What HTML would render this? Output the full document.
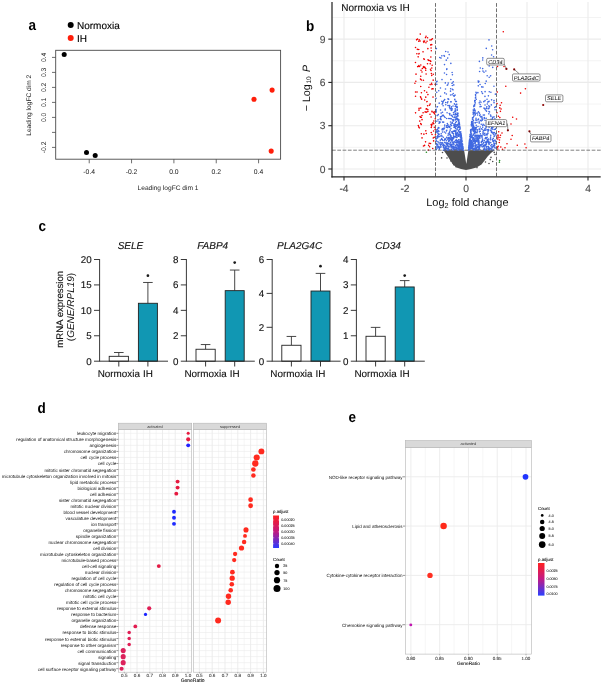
<!DOCTYPE html>
<html><head><meta charset="utf-8"><style>
html,body{margin:0;padding:0;background:#fff;}
body{width:603px;height:685px;overflow:hidden;}
svg{display:block;filter:blur(0.45px);font-family:"Liberation Sans", sans-serif;}
text{text-rendering:geometricPrecision;}
</style></head><body>
<svg width="603" height="685" viewBox="0 0 603 685">
<rect width="603" height="685" fill="#fff"/>
<text transform="translate(28.4 30) scale(0.9 1)" font-size="15" font-weight="bold">a</text>
<circle cx="70.7" cy="25" r="3" fill="#000"/>
<text x="77" y="28.8" stroke="#000" stroke-width="0.12" font-size="10">Normoxia</text>
<circle cx="70.7" cy="38" r="3" fill="#ff1e0a"/>
<text x="77" y="42" stroke="#000" stroke-width="0.12" font-size="10">IH</text>
<rect x="55.7" y="50.3" width="224.9" height="108.9" fill="none" stroke="#4a4a4a" stroke-width="0.9"/>
<line x1="52" y1="57.4" x2="55.7" y2="57.4" stroke="#4a4a4a" stroke-width="0.8"/>
<text transform="translate(46.2 57.4) rotate(-90)" text-anchor="middle" fill="#222" font-size="6.8">0.4</text>
<line x1="52" y1="72.4" x2="55.7" y2="72.4" stroke="#4a4a4a" stroke-width="0.8"/>
<text transform="translate(46.2 72.4) rotate(-90)" text-anchor="middle" fill="#222" font-size="6.8">0.3</text>
<line x1="52" y1="87.4" x2="55.7" y2="87.4" stroke="#4a4a4a" stroke-width="0.8"/>
<text transform="translate(46.2 87.4) rotate(-90)" text-anchor="middle" fill="#222" font-size="6.8">0.2</text>
<line x1="52" y1="102.4" x2="55.7" y2="102.4" stroke="#4a4a4a" stroke-width="0.8"/>
<text transform="translate(46.2 102.4) rotate(-90)" text-anchor="middle" fill="#222" font-size="6.8">0.1</text>
<line x1="52" y1="117.4" x2="55.7" y2="117.4" stroke="#4a4a4a" stroke-width="0.8"/>
<text transform="translate(46.2 117.4) rotate(-90)" text-anchor="middle" fill="#222" font-size="6.8">0.0</text>
<line x1="52" y1="132.4" x2="55.7" y2="132.4" stroke="#4a4a4a" stroke-width="0.8"/>
<line x1="52" y1="147.4" x2="55.7" y2="147.4" stroke="#4a4a4a" stroke-width="0.8"/>
<text transform="translate(46.2 147.4) rotate(-90)" text-anchor="middle" fill="#222" font-size="6.8">-0.2</text>
<line x1="89.22" y1="159.2" x2="89.22" y2="163.3" stroke="#4a4a4a" stroke-width="0.8"/>
<text x="89.22" y="173.9" text-anchor="middle" fill="#222" font-size="6.8">-0.4</text>
<line x1="131.56" y1="159.2" x2="131.56" y2="163.3" stroke="#4a4a4a" stroke-width="0.8"/>
<text x="131.56" y="173.9" text-anchor="middle" fill="#222" font-size="6.8">-0.2</text>
<line x1="173.9" y1="159.2" x2="173.9" y2="163.3" stroke="#4a4a4a" stroke-width="0.8"/>
<text x="173.9" y="173.9" text-anchor="middle" fill="#222" font-size="6.8">0.0</text>
<line x1="216.24" y1="159.2" x2="216.24" y2="163.3" stroke="#4a4a4a" stroke-width="0.8"/>
<text x="216.24" y="173.9" text-anchor="middle" fill="#222" font-size="6.8">0.2</text>
<line x1="258.58" y1="159.2" x2="258.58" y2="163.3" stroke="#4a4a4a" stroke-width="0.8"/>
<text x="258.58" y="173.9" text-anchor="middle" fill="#222" font-size="6.8">0.4</text>
<text x="168" y="190.3" text-anchor="middle" fill="#222" font-size="6.6">Leading logFC dim 1</text>
<text transform="translate(31 105.3) rotate(-90)" text-anchor="middle" fill="#222" font-size="6.6">Leading logFC dim 2</text>
<circle cx="64.2" cy="54.6" r="2.5" fill="#000"/>
<circle cx="86.5" cy="152.4" r="2.5" fill="#000"/>
<circle cx="95.2" cy="155.4" r="2.5" fill="#000"/>
<circle cx="254" cy="99.3" r="2.55" fill="#ff1e0a"/>
<circle cx="272.1" cy="90.1" r="2.55" fill="#ff1e0a"/>
<circle cx="271.2" cy="151.1" r="2.55" fill="#ff1e0a"/>
<text transform="translate(306 30.8) scale(0.9 1)" font-size="15" font-weight="bold">b</text>
<line x1="374.5" y1="2" x2="374.5" y2="176.8" stroke="#ebebeb" stroke-width="0.6"/>
<line x1="557.5" y1="2" x2="557.5" y2="176.8" stroke="#ebebeb" stroke-width="0.6"/>
<line x1="344" y1="2" x2="344" y2="176.8" stroke="#ebebeb" stroke-width="1.1"/>
<line x1="405" y1="2" x2="405" y2="176.8" stroke="#ebebeb" stroke-width="1.1"/>
<line x1="466" y1="2" x2="466" y2="176.8" stroke="#ebebeb" stroke-width="1.1"/>
<line x1="527" y1="2" x2="527" y2="176.8" stroke="#ebebeb" stroke-width="1.1"/>
<line x1="588" y1="2" x2="588" y2="176.8" stroke="#ebebeb" stroke-width="1.1"/>
<line x1="332" y1="147.35" x2="601" y2="147.35" stroke="#ebebeb" stroke-width="0.6"/>
<line x1="332" y1="104.06" x2="601" y2="104.06" stroke="#ebebeb" stroke-width="0.6"/>
<line x1="332" y1="60.78" x2="601" y2="60.78" stroke="#ebebeb" stroke-width="0.6"/>
<line x1="332" y1="17.49" x2="601" y2="17.49" stroke="#ebebeb" stroke-width="0.6"/>
<line x1="332" y1="169" x2="601" y2="169" stroke="#ebebeb" stroke-width="1.1"/>
<line x1="332" y1="125.71" x2="601" y2="125.71" stroke="#ebebeb" stroke-width="1.1"/>
<line x1="332" y1="82.42" x2="601" y2="82.42" stroke="#ebebeb" stroke-width="1.1"/>
<line x1="332" y1="39.13" x2="601" y2="39.13" stroke="#ebebeb" stroke-width="1.1"/>
<polygon points="443.5,150.3 494.5,150.3 491,153 488,156 485,160 481.5,164.5 476.5,167.5 471,169 466,170 461,169 456.5,167.5 453,164.5 450,160 447.5,156 445.5,153" fill="#4d4d4d"/>
<polygon points="464.1,150.2 466.3,164 468.4,150.2" fill="#fff"/>
<path d="M441.6 157.9h0M450.9 160.9h0M453.2 163.4h0M485.5 162h0M491 157.4h0M492.7 161.5h0M495 154.5h0M442.5 152.5h0M447 158h0M489 163.5h0M453.8 164.8h0M456 166.7h0M477 167.6h0M446.7 152.8h0M494.2 152.4h0M490.2 159.6h0" stroke="#4d4d4d" stroke-width="1.6" stroke-linecap="round" fill="none"/>
<path d="M449.93 146.94h0M456.62 134.73h0M461.26 135.94h0M462.74 148.78h0M457.67 114.81h0M438.1 130.29h0M494.98 140.03h0M455.08 110.74h0M459.38 147.71h0M479.66 146.21h0M478.97 140.83h0M461.37 149h0M473.28 138.97h0M473.09 138.05h0M473.36 125.99h0M490.76 135.19h0M495.14 143.38h0M445.71 139.3h0M461.35 136.68h0M481.16 121.02h0M483.67 142.63h0M477.07 132.72h0M481.64 91.76h0M483.6 148.98h0M492.61 49.72h0M448.86 140.39h0M460.37 137.73h0M445.81 149.01h0M457.19 144.49h0M475.64 148.54h0M489.61 106.83h0M475.14 143.65h0M437.46 106.69h0M460.6 146.32h0M451.1 136.84h0M457.14 150.16h0M437.92 133.36h0M481.45 135.6h0M491.51 149.12h0M488.84 108.31h0M461.38 139.96h0M468.84 148.94h0M458.59 146.66h0M462.3 150.24h0M462.04 141.11h0M471.49 131.01h0M457.46 141.62h0M436.21 112.06h0M461.09 136.88h0M459.45 141.77h0M468.83 146.68h0M471.01 135.06h0M477.8 149.69h0M485.55 110.04h0M460.83 141.01h0M487.05 134.88h0M443.94 145.14h0M488.97 111.56h0M473.43 123.04h0M469.4 141.36h0M459.79 143.62h0M481.71 86.9h0M494.96 60.83h0M460.54 145.21h0M450.73 145.62h0M479.44 113.16h0M472.51 117.76h0M488.67 101.65h0M471.19 137.11h0M487.62 142.07h0M475.1 140.06h0M472.53 124.18h0M440.17 146.93h0M488.49 147.05h0M475.02 128.61h0M468.73 147.4h0M479.23 129.05h0M490.54 138.75h0M471.51 145.45h0M451.85 144.68h0M461.01 139.27h0M476.41 141.42h0M479.26 102.84h0M478.83 136.17h0M475.31 149.86h0M444.65 150.16h0M446.73 137.28h0M478.01 142.27h0M472.48 119.26h0M472.06 144.47h0M479.72 135.92h0M479.93 101.03h0M478.29 136.01h0M478.74 138.08h0M444.71 92.89h0M477.9 92.66h0M490.88 92.27h0M456.27 147.62h0M462.3 144.68h0M491.98 119.29h0M448 124.8h0M437.12 106.92h0M450.67 88.68h0M439.74 57.47h0M453.4 138.83h0M458.94 145.84h0M478.58 149.84h0M459.16 149.87h0M470.19 135.74h0M494.9 118.87h0M462.4 144.01h0M469.91 143.87h0M441.83 101.28h0M439.56 146.97h0M471.52 125.89h0M454.4 126.7h0M446.38 93.95h0M489.68 148.47h0M451.98 110.12h0M439.01 133.97h0M453.9 147.45h0M461.85 147.9h0M459.05 145.69h0M456.43 121.45h0M473.33 146.28h0M462.55 144.42h0M471.66 134.06h0M455.05 95.13h0M477.6 138.81h0M477.83 140.15h0M482.69 68.58h0M482.69 125.46h0M461.98 141.61h0M446.84 148.76h0M462.49 146.64h0M484.86 108.94h0M459.3 144.64h0M456.08 146.78h0M436.79 84.29h0M494.48 144.58h0M462.13 141.33h0M453.59 137.24h0M461.36 136.05h0M457.42 148.34h0M459.72 149.78h0M452.41 132.45h0M485.09 128.59h0M473.41 140.27h0M484.52 146.97h0M488.79 149.34h0M485.62 130.3h0M477.83 147.21h0M488.83 113.85h0M491.53 132.52h0M473.1 126.36h0M458.22 147.36h0M449.91 113.74h0M483.81 130.36h0M444.71 150.17h0M478.93 136.12h0M484.92 148.86h0M460.32 148.68h0M485.16 145.6h0M474.97 136.48h0M444.71 126.99h0M471 129.45h0M446.5 144.32h0M460.96 133.3h0M449 143.92h0M473.99 127.49h0M476.93 137.62h0M455.55 104.97h0M475.56 94.63h0M437.16 115.61h0M460.63 143.92h0M479.7 145.46h0M437.96 135.24h0M451.3 115.57h0M473.2 125.69h0M469.87 136.79h0M454.87 136.57h0M458.57 147.18h0M458.08 113.19h0M473.38 113.33h0M492.03 125.02h0M456.72 140.84h0M474.88 132.27h0M462.32 143.74h0M455.54 113.88h0M471.85 144.45h0M473.95 145.99h0M489.38 106.68h0M493.92 100.81h0M471.42 124.56h0M485.94 138.13h0M469.27 143.43h0M476.34 147.49h0M446.58 143.1h0M482.23 144.15h0M455.88 133.78h0M461.03 146.68h0M471.87 136.36h0M461.33 147.2h0M461.75 141.79h0M452.33 144.2h0M477 122.26h0M456.44 135.24h0M460.14 148.95h0M477.21 147.52h0M474.89 110.1h0M456.98 144.47h0M440.46 88.06h0M468.56 149.8h0M480.18 104.58h0M474.05 150.24h0M490.56 114.96h0M469.63 144.47h0M448.06 135.31h0M483.11 124.4h0M479.28 137.89h0M457.05 119.44h0M474.03 129.29h0M450.23 144.38h0M468.97 147.84h0M475.45 132.58h0M460.73 131.68h0M437.72 137.77h0M480 106.76h0M437.72 144.51h0M469.22 142.82h0M454.61 127.57h0M438.96 128.01h0M458.98 149.54h0M458.54 127.06h0M479.15 123.09h0M450.86 79.5h0M471.05 144.94h0M493.88 143.18h0M460.71 146.05h0M438.03 128.13h0M460.08 140.14h0M468.92 147.15h0M440.3 140.14h0M495.94 123.59h0M470.77 142.17h0M471.6 122.53h0M474.41 140.63h0M462.87 146.49h0M437.91 141.49h0M452.51 82.93h0M442.32 115.42h0M455.6 149.22h0M454.86 99.34h0M456.75 104.32h0M444.17 116.5h0M463.06 149.52h0M485.49 144.24h0M472.21 141.88h0M473.13 130.85h0M472.21 142.55h0M439.18 121.77h0M475.96 92.28h0M437.81 137.22h0M471.97 140.37h0M438.99 136.5h0M445.11 117.47h0M482.19 120.3h0M457.61 142.46h0M470.34 148.58h0M469.26 144.5h0M457.34 133.99h0M495.58 106.81h0M462.64 148.47h0M453.75 125.25h0M450.35 139.35h0M490.02 122.4h0M489.06 147.63h0M456.3 133.34h0M471.41 145.75h0M441.05 146.88h0M474.79 142.26h0M472.09 135.94h0M495.65 128.84h0M443.32 137.23h0M474.7 100.59h0M461.44 147.68h0M493.06 132.56h0M452.03 109.62h0M438.05 119.86h0M449.77 131.92h0M461.13 140.95h0M451.41 144.3h0M468.9 145.65h0M458.74 127.33h0M444.6 145.65h0M469.13 148.92h0M449.35 134.1h0M448.37 146.63h0M458.87 143.51h0M479.41 142.68h0M441.64 139.36h0M471.05 141.11h0M468.89 145.64h0M488.48 139.11h0M451.49 106.92h0M453.4 149.94h0M474.8 101.64h0M477.71 140.88h0M453.69 143.51h0M476.82 147.91h0M478.92 81.4h0M436.75 92.34h0M439.29 149.13h0M447.43 102.85h0M486.88 146.71h0M442.36 139.77h0M470.88 146.16h0M456.32 135.5h0M447.17 144.51h0M478.86 149.39h0M488.91 149.46h0M451.78 131.75h0M475.32 142.86h0M482.6 139.04h0M461.69 138.59h0M472.08 136.66h0M478.31 119.65h0M460.97 137.29h0M461.33 138.86h0M461.23 135.82h0M484.81 148.51h0M470.12 135.77h0M493.86 140.65h0M436.1 110.94h0M473.82 116.15h0M494.14 136.56h0M486.98 146.6h0M473.2 148.87h0M491.42 146.75h0M457.67 116.08h0M476.29 99.24h0M457.72 135.99h0M461.62 146.18h0M491.74 127.24h0M458.36 119.2h0M475.1 129.81h0M480.41 133.88h0M495.72 148.01h0M487.56 140.11h0M444.41 56.17h0M453.4 121.02h0M459.32 122.75h0M481.65 144.33h0M483.13 132.43h0M463.32 150.2h0M454.7 130.9h0M474.71 104.61h0M460.3 128.85h0M461.55 141.38h0M451.98 145.11h0M481.07 145.63h0M438.81 147.32h0M462.44 146.97h0M488.31 108.82h0M462.5 144.04h0M474.54 133.55h0M493.29 138.39h0M491.76 144.47h0M455.75 134.92h0M445.4 149.03h0M438.43 134.07h0M451.26 145.75h0M488.53 129.51h0M458.92 142.76h0M443.12 105.77h0M489.15 150.11h0M485.57 137.59h0M462.08 145.07h0M459.02 149.44h0M489.84 126.25h0M478.94 143.99h0M451.27 118.86h0M437.39 129.49h0M457.23 107.4h0M446.5 144.8h0M475.19 122.54h0M471.6 142.19h0M484.23 130.12h0M484.03 72.18h0M490.3 126.08h0M450.54 124.19h0M450.76 145.43h0M455.63 101.42h0M439.15 147.96h0M462.9 147.15h0M448.91 126.41h0M471.67 123.28h0M488.3 141.12h0M474.1 105.41h0M494.05 100.58h0M462.09 145.59h0M442.51 112.22h0M483.29 115.02h0M462.58 148.12h0M472.79 145.61h0M460.63 149.81h0M455.4 124.83h0M448.21 83.09h0M470.58 130.79h0M445.1 138.66h0M451.53 125.6h0M457.28 110.2h0M468.81 146.47h0M436.83 121.23h0M453.83 136.61h0M477.06 146.12h0M455.97 114.22h0M471.08 143.5h0M470.49 136.31h0M486.9 148.54h0M482.89 119.01h0M456.58 139.88h0M491.05 148.42h0M459.97 145.58h0M474.92 136.19h0M476.22 144.87h0M486.69 121.87h0M473.3 141.59h0M447.08 112.82h0M475.52 146.49h0M471.04 132.76h0M455.28 106.53h0M447.85 142.99h0M469.93 146.85h0M453.54 142.25h0M460.7 142.21h0M471.86 123.88h0M474.04 148.08h0M486.22 118.24h0M450.28 145.83h0M457.37 145.57h0M444.49 139.95h0M481.89 136.22h0M451.51 147.15h0M439.52 122.95h0M445.65 133h0M447.3 145h0M485.04 120.19h0M482.74 127.25h0M450.36 142.66h0M444.78 139.25h0M473 130.18h0M450.2 137.97h0M438.76 127.52h0M444.41 128.77h0M437.05 136.64h0M460 134.41h0M482.42 93.21h0M452.14 132.98h0M482.14 135.74h0M475.72 135.34h0M483.15 145.48h0M458.58 121.18h0M469.53 141.37h0M461.91 139.93h0M447.78 139.22h0M460.42 144.02h0M482.57 93.43h0M454.08 117.58h0M445.41 147.44h0M477.64 129.92h0M494.4 145.07h0M443.02 129.67h0M473.04 137.49h0M488.77 147.54h0M455.56 111.82h0M456.32 144.33h0M447.63 150.19h0M459.12 144.56h0M449.78 138.94h0M492.89 141.15h0M488.49 149.05h0M472.8 119.28h0M470.63 129.98h0M445.5 88.99h0M462.11 148.08h0M455.25 119.99h0M442.72 102.88h0M447.94 105.44h0M491.67 127.94h0M474.22 113.37h0M485.69 134.95h0M449.38 106.95h0M461.7 144.85h0M455.76 149.02h0M453.65 136.58h0M473.21 110.1h0M479.64 137.49h0M477.16 113.15h0M453.79 84.9h0M470.69 129.82h0M493.19 127.06h0M446.74 69.4h0M456.73 104.21h0M474.6 130.41h0M476.88 141.03h0M473.51 120.5h0M452.34 139.15h0M488.65 143.24h0M458.6 136.09h0M487.18 75.72h0M473.05 142.12h0M449.35 132.4h0M484.36 149.42h0M470.26 134.31h0M461.76 150.12h0M483.02 131.29h0M483.81 101.64h0M484.34 130.33h0M472.75 127.16h0M486.32 137.87h0M462.73 146.2h0M485.06 100.66h0M443.47 115.3h0M472.56 144.21h0M456 142.5h0M475.57 95.37h0M469.25 149.43h0M492.58 132.94h0M457.91 149.95h0M495.38 94.16h0M461.33 139.5h0M470.01 145.42h0M449.02 150.14h0M453.28 81.72h0M468.74 147.45h0M484.97 144.64h0M445.6 149.2h0M486.51 111.16h0M446.83 130.23h0M453.68 95.83h0M471.26 124.72h0M443.04 128.99h0M446.9 142.71h0M451.3 110.38h0M451.88 140.98h0M459.22 127.42h0M482.02 141.12h0M474.8 139.31h0M489.28 91.68h0M469.36 143.25h0M489.18 125.7h0M436.9 131.43h0M473.88 131.67h0M453.04 105.99h0M491.68 131.64h0M469.11 143.51h0M451.37 139.15h0M473.88 106.12h0M490.94 116.5h0M489.58 143.78h0M492.48 126.93h0M453.2 148.45h0M485.54 145.72h0M480.55 144.85h0M471.54 137.59h0M443.63 122.14h0M444.28 148.39h0M479.68 144.89h0M481.11 106.53h0M459.36 132.26h0M448.14 146.21h0M455.67 133.45h0M468.89 146.98h0M469.98 140.78h0M473.01 118.97h0M478.08 141.7h0M436.4 149.55h0M479.82 136.78h0M453.62 119.73h0M489.04 120.79h0M469.13 144.32h0M462.43 146.21h0M441.22 133.78h0M438.76 90.82h0M455.59 131.83h0M452.31 85.57h0M494.19 129.57h0M476.26 140.15h0M436.21 82.07h0M460.6 149.45h0M439.2 103.16h0M486.82 149.27h0M495.42 129.22h0M446.21 147.08h0M474.14 127.42h0M472.18 121.59h0M461.78 144.24h0M460.52 146.51h0M460.11 127.37h0M468.96 145.86h0M493.07 145.21h0M474.6 105.89h0M439.16 148.18h0M477.19 130.24h0M452 115.25h0M470.85 147.13h0M451.07 124.97h0M455.2 108.91h0M459.98 146.82h0M470.55 142.01h0M440.14 142.51h0M452.12 72.56h0M472.64 127.95h0M459.79 143.43h0M436.36 141.09h0M475.43 97.89h0M456.67 104.48h0M495.07 143.22h0M454.99 117h0M443.32 150.2h0M475.46 146.09h0M479.4 145.27h0M445.58 146.23h0M469.24 145.82h0M453.19 131.29h0M451.1 145.58h0M481.79 116.52h0M447.15 148.87h0M459.52 124.4h0M489.25 141.99h0M469.88 136.52h0M490.59 137.16h0M443.18 146.08h0M457.89 146.63h0M477.52 150.15h0M460.61 135.6h0M490.89 115.98h0M455.17 125.15h0M490.37 148.97h0M478.29 136.45h0M470.1 134.67h0M470.44 145.13h0M443.69 144.42h0M448.34 148.19h0M451.88 149.88h0M484.29 135.29h0M445.26 109.1h0M454.88 147.59h0M469.85 143.62h0M451.9 147.27h0M479.34 147.02h0M488.48 146.61h0M475.54 140.3h0M475.39 135.18h0M475.7 119.93h0M455.83 142h0M492.62 117.28h0M473.06 112.23h0M493.96 86.27h0M449.94 139.16h0M460.94 134.95h0M461.33 136.04h0M442 79.61h0M488.36 129.98h0M473.78 106.61h0M483.01 144h0M439.11 134.45h0M477.92 144.41h0M452.41 89.37h0M459.71 129.18h0M482.99 87.1h0M452.77 137.55h0M462.16 147.57h0M458.76 139.7h0M453.41 148.38h0M480.3 131.22h0M484.07 145.7h0M450.17 134.2h0M459.96 142.73h0M456.36 135.73h0M473.15 150h0M478.98 144.74h0M436.52 143.47h0M458.1 120.36h0M452.13 108.83h0M455.54 140.33h0M470.84 147.9h0M472.48 123.13h0M448.71 141.46h0M489.47 111.92h0M486.3 123.12h0M487.18 137.21h0M475.26 100.51h0M485.97 150.15h0M494.41 136.32h0M487.06 139.31h0M475.38 131.36h0M446.84 137.87h0M452.4 140.23h0M444.76 142.39h0M476.46 136.26h0M461.36 142.92h0M470.71 132.64h0M489.3 142.33h0M478.28 85.83h0M456.39 101.47h0M453.36 133.43h0M480.28 120.24h0M478.47 135.52h0M474.08 140.27h0M493.72 141.5h0M470.51 135.19h0M452.19 139.89h0M494.7 107.44h0M450.15 138.52h0M478.39 141.75h0M472.69 146.46h0M480.08 114.91h0M445.75 104.8h0M493.56 56.7h0M459.63 146.81h0M471.44 136.04h0M450.12 130.15h0M474.6 149.37h0M483.5 142.84h0M442.64 142.91h0M472.44 127.96h0M458.42 133.96h0M495.91 134.92h0M470.26 139.54h0M458.75 121.45h0M453.94 146.46h0M488.22 131.06h0M445.77 149.99h0M455.69 124.85h0M461.98 143.98h0M474.6 132.61h0M461.81 140.4h0M494.3 132.59h0M458.27 130.68h0M440.57 96.28h0M442.04 103.95h0M437.62 131.6h0M453.03 89.84h0M457.9 124.63h0M451.12 108.18h0M470.37 144.61h0M437.24 146.07h0M460.38 133.58h0M475.11 140.4h0M443.47 147.58h0M460.99 144.57h0M462.53 144.77h0M470.42 141.8h0M471.58 148.28h0M475.56 147.48h0M473.27 117.22h0M455.17 124.35h0M493.82 145.53h0M475.99 145.03h0M457.42 125.48h0M475.03 132.35h0M458.91 131.31h0M477.49 147.59h0M486.43 143.87h0M451 128.59h0M461.57 140.26h0M454.7 111.78h0M478.94 147.91h0M458.16 136.22h0M460.21 142.71h0M456.97 124.76h0M443.16 101.84h0M473.9 110.34h0M449.13 149.63h0M475.25 141.49h0M473.43 125.97h0M481.46 141.47h0M439.86 147.77h0M471.31 125.05h0M461.18 146.67h0M461.91 140.56h0M459.13 129.7h0M484.88 133.18h0M448.22 138.71h0M443.23 150.22h0M469.24 143.43h0M470.59 131.35h0M444.85 147.86h0M443.83 100.56h0M455.04 126.27h0M475.29 114.59h0M450.51 91.14h0M485.97 126.47h0M477.2 130.26h0M454.26 126.04h0M475.79 97.05h0M483.63 149.34h0M478.71 144.13h0M479.66 129.74h0M458.48 149h0M459.08 145.7h0M447.74 125.44h0M453.97 144.65h0M452.14 94.76h0M456.37 106.6h0M488.19 142.04h0M472.86 121.37h0M477.27 131.8h0M473.2 114.3h0M460.32 141.21h0M460.77 143.58h0M470.31 138.24h0M457 137.47h0M463.18 148.74h0M471.93 122.2h0M485.84 70.99h0M455.28 136.68h0M461.13 134.42h0M482.17 129.35h0M473.16 128.88h0M462.91 147.23h0M475.7 113.27h0M442.03 129.71h0M486.84 146.51h0M475.15 122.85h0M455.11 114.99h0M456.46 134.06h0M469.1 144.71h0M488.74 130.25h0M494.05 102.65h0M460.3 136.26h0M460.54 132.66h0M475.62 146.63h0M468.74 148.34h0M447.33 145.96h0M441.12 113.11h0M472.68 139.05h0M475.95 135.64h0M448.81 138.57h0M475.27 102.9h0M452 138.41h0M462.37 145.85h0M437.2 137.78h0M495.06 109.72h0M488.4 130.7h0M449.72 127.45h0M437.93 133.14h0M457.24 129.18h0M457.08 106.53h0M453.96 127.31h0M455.74 128.42h0M478.55 139.36h0M470.14 140.04h0M449.43 105.65h0M455.55 110.21h0M458.79 134.95h0M459.05 133.93h0M477.48 147.82h0M474.58 148.55h0M441.65 138.54h0M486.68 124.91h0M441.87 55.83h0M453.72 114.42h0M447.24 85.2h0M486.48 147.27h0M457.65 144.78h0M458.99 132.02h0M454.24 125.41h0M490.75 130.63h0M491.57 99.84h0M455.66 122.6h0M489.07 127.19h0M446.51 140.81h0M471.41 124.4h0M478.52 148.12h0M492.66 147.82h0M470.68 144.3h0M449.31 113.45h0M462.7 149.81h0M478.82 146.1h0M455.37 126.76h0M449.89 108.17h0M494.01 116.88h0M461.14 141.77h0M488.92 108.54h0M443.72 146.18h0M476.98 140.17h0M453.48 112.56h0M470.79 131.17h0M440.6 145.32h0M469.88 149.34h0M451.52 137.5h0M462.14 141.42h0M469.3 142.04h0M450.85 63.42h0M457.52 127.78h0M458.78 136.24h0M494.17 135.07h0M478.8 149.54h0M488.06 108.65h0M475.16 129.9h0M440.67 118.19h0M474.26 127.14h0M479.26 123.06h0M479.01 141.52h0M458.93 148.98h0M446.28 60.17h0M460.33 144.61h0M462.98 147.3h0M476.35 138.05h0M470.47 142.97h0M458.79 142.99h0M493.35 134.05h0M448 98.9h0M452.17 146.26h0M486.63 141.32h0M457.3 109.29h0M454.42 103.9h0M462.07 149.77h0M458.07 125.62h0M451.42 145.72h0M472.3 129.14h0M485.24 83.56h0M440.54 116.75h0M461.4 147.27h0M484.04 108.16h0M472.96 145.42h0M476.17 129.09h0M469.48 141.91h0M450.94 149.3h0M450.8 136.46h0M461.58 137.67h0M495.5 133.46h0M446.38 131.01h0M461.97 148.26h0M458.79 120.8h0M478.82 139.12h0M482.84 133.88h0M485.35 142.13h0M444.74 125.13h0M486.51 142.77h0M472.68 138.05h0M476.44 93.09h0M449.06 137.19h0M495.57 141.15h0M458.92 121.7h0M462.76 147.33h0M471.58 133.87h0M470.42 141.05h0M439.02 123.2h0M445.46 149.65h0M446.86 68.71h0M487.62 141.72h0M440.13 142.34h0M459.34 123.53h0M490.2 139.86h0M455.5 133.46h0M485.08 91.66h0M459.83 144.38h0M460.87 144.92h0M473.92 129.45h0M479.34 145.31h0M440.55 110.07h0M442.56 122.11h0M454.54 142.1h0M483.03 146.68h0M480.1 138.05h0M490.89 145.48h0M441.05 119.67h0M436.15 109.94h0M462.68 149.74h0M492.03 150.05h0M459.09 123.33h0M459.67 127.05h0M444.69 99.59h0M479.6 71.56h0M446.68 118.51h0M459.25 136.04h0M463.05 148h0M490.74 142.55h0M460.61 136.74h0M448.69 146.26h0M452.25 123.17h0M454.18 141.43h0M471.27 141.56h0M486.81 106.87h0M460.04 146.3h0M454.62 149.35h0M456.57 133.81h0M448.36 126.7h0M483.93 134.16h0M486.31 108.38h0M456.29 142.5h0M474.7 140.35h0M436.03 147.12h0M438.98 131.33h0M455.96 131.17h0M462.08 145.77h0M492.42 119.28h0M456.43 126.31h0M473.77 134.16h0M485.22 150.22h0M480.65 135.82h0M481.3 144.84h0M484.37 140.62h0M450.24 135.15h0M481.41 142.39h0M480.72 145.14h0M450.71 101.87h0M477.38 135.33h0M439.21 147.14h0M478.78 135.25h0M470.34 144.73h0M482.06 137.78h0M491.31 104.9h0M442.95 140.54h0M469.83 147.59h0M458.39 148.05h0M476.76 135.36h0M436.09 140.07h0M477.2 138.19h0M472.62 121.51h0M478.16 141.01h0M457.89 140.88h0M461.57 149.88h0M470.02 149.04h0M473.05 143.76h0M457.81 113.95h0M474.63 110.68h0M448.75 118.49h0M456.44 149.33h0M456.79 125.06h0M443.28 129.14h0M451.72 140.41h0M494.73 145.94h0M482.73 140.83h0M446.26 148.76h0M453.55 135.17h0M471.69 121.66h0M476.81 137.7h0M476.98 139.41h0M477.52 138.53h0M484.43 115.07h0M469.6 139.86h0M486.72 133.94h0M470.78 147.7h0M458.01 115.88h0M450.5 121.97h0M446.57 127.16h0M448.69 149.1h0M436.04 132.53h0M474.25 108.72h0M461.28 135.49h0M471.85 143.75h0M442.02 144.29h0M475.92 135.79h0M441.65 142.91h0M475.36 111h0M453.77 149.16h0M454 137.63h0M487.68 141.04h0M448.67 99.37h0M453.27 142.62h0M457.31 133.43h0M455.98 118.12h0M481.97 117.48h0M450.55 95.07h0M475.2 149.04h0M489.93 149.23h0M459.43 131.92h0M487.91 133.61h0M447.75 127.61h0M442.89 145.45h0M454.76 99.75h0M445.15 148.22h0M482.58 139.42h0M445.7 102.5h0M448.52 149.06h0M455.39 113.7h0M457.31 132.62h0M492.08 146.86h0M457.16 113.05h0M482.97 71.11h0M449.79 140.58h0M460.67 134.3h0M453.99 123.92h0M488.55 147.79h0M436.09 98.36h0M473.2 135.14h0M452.25 122.21h0M476.63 148.27h0M479.41 131.84h0M460.03 147.2h0M474.73 112.52h0M480.02 149.58h0M493.56 141.71h0M472.78 149.2h0M446.54 144.5h0M455.97 118.93h0M460.57 133.69h0M481.96 118.91h0M454.5 149.55h0M459.6 129.22h0M474.36 141.45h0M470.13 146.63h0M489.26 142.1h0M470.83 137.02h0M456.72 107.56h0M460.52 134.73h0M453.57 146.62h0M471.06 141.01h0M461.94 145.65h0M450.79 108.79h0M493.44 149.93h0M450.04 118.61h0M485.57 144.98h0M462.44 144.04h0M458.16 135.49h0M479.43 148.46h0M444.37 131.97h0M471.09 148.94h0M480.3 67.98h0M488.68 126.46h0M452.5 116.63h0M493.3 150.02h0M461.47 139.68h0M447.35 123.51h0M461.25 141.71h0M458.61 145.23h0M477.8 137.04h0M487.71 102.02h0M481.1 145.76h0M472.4 119.04h0M470.52 141.56h0M486.16 127.68h0M438.29 114.63h0M489.47 122.64h0M476.6 132.21h0M490.99 119.24h0M447.83 84.73h0M494.59 147.75h0M489.04 144.38h0M455.66 145.78h0M439.81 136.53h0M476.25 125.21h0M484.6 118.36h0M477.61 114.94h0M442.35 128.89h0M442.46 131.99h0M476.63 150.15h0M444.02 147.87h0M454.16 131.49h0M458.14 145.39h0M473.67 130.73h0M447.98 143.86h0M443.38 128.39h0M459.96 127.03h0M471.81 146.13h0M471.45 141.15h0M491.6 131.21h0M437.84 136.25h0M482.65 59.94h0M477.97 146.67h0M438.42 146.35h0M456.44 116.76h0M453.19 148.09h0M474.91 135.67h0M485.03 104.94h0M454.38 130.48h0M482.56 141.17h0M478.23 140.72h0M480.99 102.22h0M452.43 74.73h0M480.25 127h0M440.12 122.15h0M471.64 122.25h0M438.08 147.26h0M479.8 147.09h0M474.14 149.28h0M473.59 129.52h0M478.7 143.29h0M444.47 73h0M475.77 127.44h0M484.44 125.25h0M452.38 146.67h0M476.04 118.36h0M441.01 135.58h0M458.35 123.16h0M459.77 149.13h0M437.07 81.37h0M438.43 142.76h0M455.81 142.42h0M457.08 144.15h0M451.9 83.31h0M451.18 101.87h0M487.24 129.76h0M446.12 146.91h0M448.32 133.71h0M473.89 143.73h0M473.17 135.02h0M486.41 144.17h0M449.81 114.84h0M453.22 93.43h0M453.38 148.78h0M476.5 127.34h0M472.35 147.86h0M486.21 81.15h0M476.81 120.14h0M475.44 122.84h0M454.85 117.14h0M450.1 108.77h0M491.97 127.88h0M461.95 141.89h0M442.02 136.15h0M475.79 132.82h0M489.32 143.78h0M473.68 113.42h0M479.14 121.9h0M487.34 103.96h0M491.04 129.1h0M446.71 125.64h0M469.36 143.74h0M475.09 115.12h0M462.19 145.12h0M490.64 75.86h0M459.64 125.96h0M469.23 142.3h0M471.78 147.22h0M452.24 138.32h0M488.46 149.42h0M450.51 145.11h0M452.18 142.12h0M457.23 118.38h0M480.53 116.83h0M458.98 119.83h0M469.81 139.1h0M481.25 124.19h0M451.02 135.74h0M436.12 109.39h0M480.07 84.52h0M476.41 148.74h0M448.22 138.02h0M473.94 137.99h0M458.88 139.82h0M451.88 123.34h0M448.01 145.79h0M452.59 144h0M489.2 77.26h0M487.03 99.23h0M470.43 148.93h0M445.17 110h0M473.7 144.05h0M436.31 130.03h0M461.86 149.33h0M442.39 103.93h0M462.49 148.06h0M452.62 119.88h0M489.08 101.21h0M457.71 115.38h0M453.08 133.5h0M462.53 144.38h0M493.78 125.22h0M485.18 138.64h0M441.71 116.49h0M461.38 149.98h0M469.42 140.62h0M478.49 119.09h0M449.77 105.83h0M450.45 142.35h0M482.08 136.85h0M440.08 144.61h0M451.99 148.02h0M455.7 145.74h0M484.72 129.8h0M447.45 148.83h0M456.16 137.39h0M473.41 124.97h0M478.01 126.45h0M447.87 101.81h0M436.55 144.73h0M444.62 140.18h0M485.91 129.94h0M437.05 148.25h0M468.68 149.46h0M454.16 96.32h0M484.96 96.42h0M470.16 144.08h0M458.8 121.65h0M472.62 125.23h0M477.53 146.65h0M440.1 119h0M489.44 150.2h0M479.78 115.45h0M487.92 132h0M453.51 149.11h0M461.93 140.02h0M488.55 149.75h0M470.44 137.87h0M475.34 145.55h0M446.6 74.51h0M447.21 148.25h0M473.39 112.14h0M445.71 142.96h0M436.85 131.4h0M468.79 150.1h0M449.94 126.42h0M475.42 137.96h0M492.55 129.11h0M492.61 118.07h0M471.31 124.76h0M478.46 111.92h0M493.45 146.24h0M457.54 125.48h0M458.3 141.59h0M436.79 138.42h0M488.39 95.87h0M491.71 45.97h0M456.67 144.44h0M440.91 144.94h0M486.44 142.19h0M488.86 105.68h0M488.42 148h0M456.07 130.32h0M478.46 82.14h0M479.56 129.04h0M492.27 139.67h0M478.13 81.06h0M440.02 143.4h0M447.48 144.15h0M475.51 146.32h0M486.23 126.54h0M471.69 144.47h0M458.31 126.51h0M445.33 82.91h0M481.31 128.68h0M469.42 142.92h0M458.5 149.95h0M454.9 147.82h0M473.76 126.74h0M469.37 146.28h0M448.1 139.62h0M459.19 123.92h0M488.87 141.77h0M456.5 114.59h0M484.29 117.43h0M461.75 150.04h0M482.2 146.77h0M472.18 128.37h0M489 39.9h0M486.3 48.4h0M491.6 55h0M482.8 57.9h0M479.4 61.4h0M445.7 51.5h0M448 52h0M449.2 54.6h0M444 55.5h0M441 58.1h0M447.7 58.1h0M444.5 64.6h0M436.4 48.6h0M489.2 66h0M492.7 67.4h0" stroke="#4169e1" stroke-width="1.6" stroke-linecap="round" fill="none"/>
<path d="M433.72 123.64h0M427.56 37.73h0M423.69 67.51h0M434.16 113.22h0M424.57 145.4h0M418.31 125.55h0M420.51 96.86h0M421.2 124.38h0M427.9 109.74h0M433.19 80.13h0M418.99 110.14h0M427.6 105.74h0M430.85 57.01h0M431.11 116.93h0M427.92 94.61h0M425.72 68.54h0M418.15 66.42h0M434.89 111.79h0M433.1 88.83h0M420.74 86.57h0M433.56 130.93h0M431.9 84.55h0M426.37 112.29h0M434.32 127.24h0M425.77 97.13h0M423.99 41.71h0M432.03 134.48h0M423.83 58.9h0M415.54 47.53h0M424.61 41.09h0M431.96 111.18h0M431.1 48.02h0M431.24 132.6h0M425.94 42.8h0M428.91 87.29h0M421.97 115.47h0M433.02 97.12h0M425.51 37.6h0M435.29 118.74h0M424.83 67.43h0M429.21 143.19h0M424.36 59.25h0M425.15 111.88h0M422 72.05h0M420.72 123.45h0M420.14 40.93h0M427.87 48.67h0M431.73 44.67h0M423.1 112.76h0M434.76 114h0M432.59 88.76h0M420.55 117.24h0M416.02 74.15h0M421.42 92.69h0M423.48 145.95h0M425.61 112h0M415.83 81.28h0M414.93 83.26h0M431.01 70.47h0M431.31 50.76h0M426.03 36.28h0M415.56 112.84h0M427.06 101.54h0M421.63 99.13h0M430.53 143.52h0M419.79 121.12h0M428.43 150.08h0M426.08 108.99h0M420.74 76.26h0M431.14 124.47h0M418.69 126.92h0M432.96 122.88h0M423.44 80.21h0M432.03 111.85h0M426.12 73.93h0M417.08 91.95h0M417.66 66.61h0M429.92 39.95h0M427.04 41.24h0M422.03 137.9h0M435.2 129.35h0M429.51 105.23h0M417.45 39.09h0M424.52 90.76h0M418.76 49.43h0M424.86 67.39h0M431.27 127.49h0M423.34 66.95h0M416.86 53.72h0M431.5 39.48h0M421.34 133.74h0M431.74 75.43h0M430.2 63.74h0M427.9 111.57h0M421.45 80.05h0M423.89 134.16h0M425.72 70.18h0M418.92 65.62h0M429.57 146.74h0M420.79 65.07h0M431.76 67.95h0M419.2 39.81h0M426.57 112.02h0M431.2 39.86h0M415.56 91.93h0M430.68 44.9h0M428.04 59.72h0M419.59 66.45h0M431.55 125.91h0M429.99 114.25h0M433.6 140.88h0M426.77 92.24h0M426.27 133.45h0M423.53 41.21h0M420.89 97.74h0M431.86 88.95h0M435.13 84.33h0M432.16 65.26h0M415.54 96.19h0M418.17 56.83h0M422.34 68.47h0M415.46 62.54h0M420.09 116.62h0M430.2 103.93h0M423.03 51.87h0M417.35 49.36h0M431.39 73.62h0M428.64 145.35h0M429.85 60.62h0M435.43 134.72h0M422.03 119.63h0M432.73 148.45h0M420.75 108.12h0M419.36 127.84h0M432.42 38.82h0M424.67 100h0M426.84 101.72h0M430.14 84.62h0M434.25 137.3h0M433.76 121.07h0M421.05 70.2h0M419.08 108.38h0M428.41 60.33h0M431.59 83.29h0M423.88 42.37h0M433.24 137.96h0M427.51 63.69h0M430.74 61.42h0M418.87 54.07h0M425.82 130.86h0M421.38 117.27h0M419.09 53.45h0M433.56 112.23h0M423.78 66.44h0M432 124.4h0M433.26 74.23h0M430.5 69.25h0M426.72 108.91h0M420.48 79.11h0M425.56 141.84h0M420.25 34.08h0M416.59 39.85h0M418.73 41.29h0M503.3 31.7h0M497.5 66.5h0M504 66.5h0M505.8 86.3h0M525.4 88.8h0M520.6 93.1h0M497 103.6h0M501.5 102.8h0M497 112.7h0M512.7 117.3h0M516.5 119h0M511 124h0M498.7 131.7h0M502 133h0M512.2 135.5h0M511 139.3h0M499.5 140h0M507 143.7h0M517.3 145.2h0M524.9 144h0M526.1 147.7h0M498.2 146.2h0M500.8 147h0M505 147.7h0M497.6 125.5h0M498 137.5h0M503.5 120.5h0M497.3 92h0M497.8 149h0M502.5 149.3h0M498.05 136.09h0M499.84 117.6h0M499.73 107.88h0M497.98 135.15h0M499.94 137.48h0M497.78 139.07h0M500.4 111.33h0M500.17 105.25h0M500.5 135.22h0M498.46 116.22h0M497.35 121.39h0M497.49 147.25h0M499.3 142.54h0M501.09 109.01h0" stroke="#ee0000" stroke-width="1.6" stroke-linecap="round" fill="none"/>
<path d="M426.4 152.2h0M499.6 160.6h0M499.4 162.2h0" stroke="#228b22" stroke-width="1.6" stroke-linecap="round" fill="none"/>
<circle cx="506.4" cy="68.9" r="1.1" fill="#8b0000"/>
<circle cx="514.2" cy="69.4" r="1.1" fill="#8b0000"/>
<circle cx="543.2" cy="105" r="1.1" fill="#8b0000"/>
<circle cx="507.9" cy="130.3" r="1.1" fill="#8b0000"/>
<circle cx="529.4" cy="131.3" r="1.1" fill="#8b0000"/>
<line x1="435.5" y1="2" x2="435.5" y2="176.8" stroke="#404040" stroke-width="0.75" stroke-dasharray="3.7 1.6" stroke-dashoffset="4.2"/>
<line x1="496.5" y1="2" x2="496.5" y2="176.8" stroke="#404040" stroke-width="0.75" stroke-dasharray="3.7 1.6" stroke-dashoffset="4.2"/>
<line x1="332" y1="150.2" x2="601" y2="150.2" stroke="#555" stroke-width="0.75" stroke-dasharray="3.7 1.6"/>
<line x1="504" y1="63.5" x2="506.4" y2="68.9" stroke="#222" stroke-width="0.5"/>
<line x1="514.2" y1="69.4" x2="519" y2="73.6" stroke="#222" stroke-width="0.5"/>
<line x1="507.4" y1="123.5" x2="507.9" y2="130.3" stroke="#222" stroke-width="0.5"/>
<line x1="529.4" y1="131.3" x2="531" y2="134.4" stroke="#222" stroke-width="0.5"/>
<rect x="486.7" y="58.3" width="17.5" height="6.7" rx="1.2" fill="#fff" stroke="#333" stroke-width="0.55"/>
<text x="495.45" y="63.65" text-anchor="middle" font-style="italic" fill="#111" font-size="5.6" stroke="#111" stroke-width="0.03">CD34</text>
<rect x="512.5" y="73.9" width="27.5" height="7.2" rx="1.2" fill="#fff" stroke="#333" stroke-width="0.55"/>
<text x="526.25" y="79.5" text-anchor="middle" font-style="italic" fill="#111" font-size="5.6" stroke="#111" stroke-width="0.03">PLA2G4C</text>
<rect x="545.5" y="94.9" width="17.4" height="6.9" rx="1.2" fill="#fff" stroke="#333" stroke-width="0.55"/>
<text x="554.2" y="100.35" text-anchor="middle" font-style="italic" fill="#111" font-size="5.6" stroke="#111" stroke-width="0.03">SELE</text>
<rect x="486.1" y="119.6" width="20.6" height="7.1" rx="1.2" fill="#fff" stroke="#333" stroke-width="0.55"/>
<text x="496.4" y="125.15" text-anchor="middle" font-style="italic" fill="#111" font-size="5.6" stroke="#111" stroke-width="0.03">EFNA1</text>
<rect x="530.5" y="134.6" width="20.5" height="7.3" rx="1.2" fill="#fff" stroke="#333" stroke-width="0.55"/>
<text x="540.75" y="140.25" text-anchor="middle" font-style="italic" fill="#111" font-size="5.6" stroke="#111" stroke-width="0.03">FABP4</text>
<line x1="332" y1="2" x2="332" y2="177.4" stroke="#262626" stroke-width="1.25"/>
<line x1="331.4" y1="176.8" x2="600.7" y2="176.8" stroke="#262626" stroke-width="1.25"/>
<line x1="328.3" y1="169" x2="332" y2="169" stroke="#262626" stroke-width="1.1"/>
<text x="325.4" y="172.7" text-anchor="end" fill="#4a4a4a" stroke="#4a4a4a" stroke-width="0.12" font-size="10.3">0</text>
<line x1="328.3" y1="125.71" x2="332" y2="125.71" stroke="#262626" stroke-width="1.1"/>
<text x="325.4" y="129.41" text-anchor="end" fill="#4a4a4a" stroke="#4a4a4a" stroke-width="0.12" font-size="10.3">3</text>
<line x1="328.3" y1="82.42" x2="332" y2="82.42" stroke="#262626" stroke-width="1.1"/>
<text x="325.4" y="86.12" text-anchor="end" fill="#4a4a4a" stroke="#4a4a4a" stroke-width="0.12" font-size="10.3">6</text>
<line x1="328.3" y1="39.13" x2="332" y2="39.13" stroke="#262626" stroke-width="1.1"/>
<text x="325.4" y="42.83" text-anchor="end" fill="#4a4a4a" stroke="#4a4a4a" stroke-width="0.12" font-size="10.3">9</text>
<line x1="344" y1="176.8" x2="344" y2="180.4" stroke="#262626" stroke-width="1.1"/>
<text x="344" y="191.7" text-anchor="middle" fill="#4a4a4a" stroke="#4a4a4a" stroke-width="0.12" font-size="10.3">-4</text>
<line x1="405" y1="176.8" x2="405" y2="180.4" stroke="#262626" stroke-width="1.1"/>
<text x="405" y="191.7" text-anchor="middle" fill="#4a4a4a" stroke="#4a4a4a" stroke-width="0.12" font-size="10.3">-2</text>
<line x1="466" y1="176.8" x2="466" y2="180.4" stroke="#262626" stroke-width="1.1"/>
<text x="466" y="191.7" text-anchor="middle" fill="#4a4a4a" stroke="#4a4a4a" stroke-width="0.12" font-size="10.3">0</text>
<line x1="527" y1="176.8" x2="527" y2="180.4" stroke="#262626" stroke-width="1.1"/>
<text x="527" y="191.7" text-anchor="middle" fill="#4a4a4a" stroke="#4a4a4a" stroke-width="0.12" font-size="10.3">2</text>
<line x1="588" y1="176.8" x2="588" y2="180.4" stroke="#262626" stroke-width="1.1"/>
<text x="588" y="191.7" text-anchor="middle" fill="#4a4a4a" stroke="#4a4a4a" stroke-width="0.12" font-size="10.3">4</text>
<text x="341.3" y="10.7" fill="#111" stroke="#111" stroke-width="0.12" font-size="10">Normoxia vs IH</text>
<text x="467.4" y="205.9" text-anchor="middle" font-size="11" fill="#111">Log<tspan font-size="7.2" dy="2.4">2</tspan><tspan dy="-2.4"> fold change</tspan></text>
<text transform="translate(309.6 111.3) rotate(-90)" font-size="10.7" fill="#111">− Log<tspan font-size="6.6" dy="1.6" dx="0.7">10</tspan><tspan dy="-1.6" dx="1.3" font-style="italic"> P</tspan></text>
<text transform="translate(38.4 230.7) scale(0.9 1)" font-size="15" font-weight="bold">c</text>
<text x="130.5" y="248.6" text-anchor="middle" font-style="italic" fill="#111" stroke="#111" stroke-width="0.12" font-size="10">SELE</text>
<line x1="118.8" y1="356.32" x2="118.8" y2="352.5" stroke="#333" stroke-width="0.9"/>
<line x1="114" y1="352.5" x2="123.6" y2="352.5" stroke="#333" stroke-width="0.9"/>
<line x1="147.9" y1="303.28" x2="147.9" y2="282.48" stroke="#333" stroke-width="0.9"/>
<line x1="143.1" y1="282.48" x2="152.7" y2="282.48" stroke="#333" stroke-width="0.9"/>
<rect x="109.2" y="356.32" width="19.2" height="4.88" fill="#fff" stroke="#222" stroke-width="0.9"/>
<rect x="138.4" y="303.28" width="19" height="57.92" fill="#1197b3" stroke="#222" stroke-width="0.9"/>
<line x1="99.6" y1="259.1" x2="99.6" y2="361.6" stroke="#222" stroke-width="0.9"/>
<line x1="99.6" y1="361.2" x2="168" y2="361.2" stroke="#222" stroke-width="0.9"/>
<line x1="94" y1="361.2" x2="99.6" y2="361.2" stroke="#222" stroke-width="0.9"/>
<text x="91.6" y="364.7" text-anchor="end" fill="#111" stroke="#111" stroke-width="0.12" font-size="9.8">0</text>
<line x1="94" y1="335.77" x2="99.6" y2="335.77" stroke="#222" stroke-width="0.9"/>
<text x="91.6" y="339.27" text-anchor="end" fill="#111" stroke="#111" stroke-width="0.12" font-size="9.8">5</text>
<line x1="94" y1="310.35" x2="99.6" y2="310.35" stroke="#222" stroke-width="0.9"/>
<text x="91.6" y="313.85" text-anchor="end" fill="#111" stroke="#111" stroke-width="0.12" font-size="9.8">10</text>
<line x1="94" y1="284.92" x2="99.6" y2="284.92" stroke="#222" stroke-width="0.9"/>
<text x="91.6" y="288.42" text-anchor="end" fill="#111" stroke="#111" stroke-width="0.12" font-size="9.8">15</text>
<line x1="94" y1="259.5" x2="99.6" y2="259.5" stroke="#222" stroke-width="0.9"/>
<text x="91.6" y="263" text-anchor="end" fill="#111" stroke="#111" stroke-width="0.12" font-size="9.8">20</text>
<line x1="118.8" y1="361.2" x2="118.8" y2="366.5" stroke="#222" stroke-width="0.9"/>
<line x1="147.9" y1="361.2" x2="147.9" y2="366.5" stroke="#222" stroke-width="0.9"/>
<text x="118.8" y="377.2" text-anchor="middle" fill="#111" stroke="#111" stroke-width="0.12" font-size="9.9">Normoxia</text>
<text x="147.9" y="377.2" text-anchor="middle" fill="#111" stroke="#111" stroke-width="0.12" font-size="9.9">IH</text>
<circle cx="147.9" cy="275.7" r="1.35" fill="#1a1a1a"/>
<text x="212.7" y="248.6" text-anchor="middle" font-style="italic" fill="#111" stroke="#111" stroke-width="0.12" font-size="10">FABP4</text>
<line x1="205.6" y1="349.25" x2="205.6" y2="344.55" stroke="#333" stroke-width="0.9"/>
<line x1="200.8" y1="344.55" x2="210.4" y2="344.55" stroke="#333" stroke-width="0.9"/>
<line x1="234.7" y1="290.65" x2="234.7" y2="270.05" stroke="#333" stroke-width="0.9"/>
<line x1="229.9" y1="270.05" x2="239.5" y2="270.05" stroke="#333" stroke-width="0.9"/>
<rect x="196" y="349.25" width="19.2" height="11.95" fill="#fff" stroke="#222" stroke-width="0.9"/>
<rect x="225.2" y="290.65" width="19" height="70.55" fill="#1197b3" stroke="#222" stroke-width="0.9"/>
<line x1="186.4" y1="259.1" x2="186.4" y2="361.6" stroke="#222" stroke-width="0.9"/>
<line x1="186.4" y1="361.2" x2="254.8" y2="361.2" stroke="#222" stroke-width="0.9"/>
<line x1="180.8" y1="361.2" x2="186.4" y2="361.2" stroke="#222" stroke-width="0.9"/>
<text x="178.4" y="364.7" text-anchor="end" fill="#111" stroke="#111" stroke-width="0.12" font-size="9.8">0</text>
<line x1="180.8" y1="335.77" x2="186.4" y2="335.77" stroke="#222" stroke-width="0.9"/>
<text x="178.4" y="339.27" text-anchor="end" fill="#111" stroke="#111" stroke-width="0.12" font-size="9.8">2</text>
<line x1="180.8" y1="310.35" x2="186.4" y2="310.35" stroke="#222" stroke-width="0.9"/>
<text x="178.4" y="313.85" text-anchor="end" fill="#111" stroke="#111" stroke-width="0.12" font-size="9.8">4</text>
<line x1="180.8" y1="284.92" x2="186.4" y2="284.92" stroke="#222" stroke-width="0.9"/>
<text x="178.4" y="288.42" text-anchor="end" fill="#111" stroke="#111" stroke-width="0.12" font-size="9.8">6</text>
<line x1="180.8" y1="259.5" x2="186.4" y2="259.5" stroke="#222" stroke-width="0.9"/>
<text x="178.4" y="263" text-anchor="end" fill="#111" stroke="#111" stroke-width="0.12" font-size="9.8">8</text>
<line x1="205.6" y1="361.2" x2="205.6" y2="366.5" stroke="#222" stroke-width="0.9"/>
<line x1="234.7" y1="361.2" x2="234.7" y2="366.5" stroke="#222" stroke-width="0.9"/>
<text x="205.6" y="377.2" text-anchor="middle" fill="#111" stroke="#111" stroke-width="0.12" font-size="9.9">Normoxia</text>
<text x="234.7" y="377.2" text-anchor="middle" fill="#111" stroke="#111" stroke-width="0.12" font-size="9.9">IH</text>
<circle cx="234.7" cy="262.6" r="1.35" fill="#1a1a1a"/>
<text x="299.6" y="248.6" text-anchor="middle" font-style="italic" fill="#111" stroke="#111" stroke-width="0.12" font-size="10">PLA2G4C</text>
<line x1="291.4" y1="345.27" x2="291.4" y2="336.45" stroke="#333" stroke-width="0.9"/>
<line x1="286.6" y1="336.45" x2="296.2" y2="336.45" stroke="#333" stroke-width="0.9"/>
<line x1="320.5" y1="291.03" x2="320.5" y2="273.4" stroke="#333" stroke-width="0.9"/>
<line x1="315.7" y1="273.4" x2="325.3" y2="273.4" stroke="#333" stroke-width="0.9"/>
<rect x="281.8" y="345.27" width="19.2" height="15.93" fill="#fff" stroke="#222" stroke-width="0.9"/>
<rect x="311" y="291.03" width="19" height="70.17" fill="#1197b3" stroke="#222" stroke-width="0.9"/>
<line x1="272.2" y1="259.1" x2="272.2" y2="361.6" stroke="#222" stroke-width="0.9"/>
<line x1="272.2" y1="361.2" x2="340.6" y2="361.2" stroke="#222" stroke-width="0.9"/>
<line x1="266.6" y1="361.2" x2="272.2" y2="361.2" stroke="#222" stroke-width="0.9"/>
<text x="264.2" y="364.7" text-anchor="end" fill="#111" stroke="#111" stroke-width="0.12" font-size="9.8">0</text>
<line x1="266.6" y1="327.3" x2="272.2" y2="327.3" stroke="#222" stroke-width="0.9"/>
<text x="264.2" y="330.8" text-anchor="end" fill="#111" stroke="#111" stroke-width="0.12" font-size="9.8">2</text>
<line x1="266.6" y1="293.4" x2="272.2" y2="293.4" stroke="#222" stroke-width="0.9"/>
<text x="264.2" y="296.9" text-anchor="end" fill="#111" stroke="#111" stroke-width="0.12" font-size="9.8">4</text>
<line x1="266.6" y1="259.5" x2="272.2" y2="259.5" stroke="#222" stroke-width="0.9"/>
<text x="264.2" y="263" text-anchor="end" fill="#111" stroke="#111" stroke-width="0.12" font-size="9.8">6</text>
<line x1="291.4" y1="361.2" x2="291.4" y2="366.5" stroke="#222" stroke-width="0.9"/>
<line x1="320.5" y1="361.2" x2="320.5" y2="366.5" stroke="#222" stroke-width="0.9"/>
<text x="291.4" y="377.2" text-anchor="middle" fill="#111" stroke="#111" stroke-width="0.12" font-size="9.9">Normoxia</text>
<text x="320.5" y="377.2" text-anchor="middle" fill="#111" stroke="#111" stroke-width="0.12" font-size="9.9">IH</text>
<circle cx="320.5" cy="266.2" r="1.35" fill="#1a1a1a"/>
<text x="388.1" y="248.6" text-anchor="middle" font-style="italic" fill="#111" stroke="#111" stroke-width="0.12" font-size="10">CD34</text>
<line x1="375.6" y1="336.28" x2="375.6" y2="327.38" stroke="#333" stroke-width="0.9"/>
<line x1="370.8" y1="327.38" x2="380.4" y2="327.38" stroke="#333" stroke-width="0.9"/>
<line x1="404.7" y1="286.96" x2="404.7" y2="280.6" stroke="#333" stroke-width="0.9"/>
<line x1="399.9" y1="280.6" x2="409.5" y2="280.6" stroke="#333" stroke-width="0.9"/>
<rect x="366" y="336.28" width="19.2" height="24.92" fill="#fff" stroke="#222" stroke-width="0.9"/>
<rect x="395.2" y="286.96" width="19" height="74.24" fill="#1197b3" stroke="#222" stroke-width="0.9"/>
<line x1="356.4" y1="259.1" x2="356.4" y2="361.6" stroke="#222" stroke-width="0.9"/>
<line x1="356.4" y1="361.2" x2="424.8" y2="361.2" stroke="#222" stroke-width="0.9"/>
<line x1="350.8" y1="361.2" x2="356.4" y2="361.2" stroke="#222" stroke-width="0.9"/>
<text x="348.4" y="364.7" text-anchor="end" fill="#111" stroke="#111" stroke-width="0.12" font-size="9.8">0</text>
<line x1="350.8" y1="335.77" x2="356.4" y2="335.77" stroke="#222" stroke-width="0.9"/>
<text x="348.4" y="339.27" text-anchor="end" fill="#111" stroke="#111" stroke-width="0.12" font-size="9.8">1</text>
<line x1="350.8" y1="310.35" x2="356.4" y2="310.35" stroke="#222" stroke-width="0.9"/>
<text x="348.4" y="313.85" text-anchor="end" fill="#111" stroke="#111" stroke-width="0.12" font-size="9.8">2</text>
<line x1="350.8" y1="284.92" x2="356.4" y2="284.92" stroke="#222" stroke-width="0.9"/>
<text x="348.4" y="288.42" text-anchor="end" fill="#111" stroke="#111" stroke-width="0.12" font-size="9.8">3</text>
<line x1="350.8" y1="259.5" x2="356.4" y2="259.5" stroke="#222" stroke-width="0.9"/>
<text x="348.4" y="263" text-anchor="end" fill="#111" stroke="#111" stroke-width="0.12" font-size="9.8">4</text>
<line x1="375.6" y1="361.2" x2="375.6" y2="366.5" stroke="#222" stroke-width="0.9"/>
<line x1="404.7" y1="361.2" x2="404.7" y2="366.5" stroke="#222" stroke-width="0.9"/>
<text x="375.6" y="377.2" text-anchor="middle" fill="#111" stroke="#111" stroke-width="0.12" font-size="9.9">Normoxia</text>
<text x="404.7" y="377.2" text-anchor="middle" fill="#111" stroke="#111" stroke-width="0.12" font-size="9.9">IH</text>
<circle cx="404.7" cy="275.6" r="1.35" fill="#1a1a1a"/>
<text transform="translate(62.8 309.3) rotate(-90)" text-anchor="middle" fill="#111" stroke="#111" stroke-width="0.12" font-size="9.65">mRNA expression</text>
<text transform="translate(74.2 307) rotate(-90)" text-anchor="middle" font-size="10" fill="#111">(<tspan font-style="italic">GENE/RPL19</tspan>)</text>
<text transform="translate(37.5 413.2) scale(0.9 1)" font-size="15" font-weight="bold">d</text>
<rect x="118.3" y="429.5" width="73.4" height="242.7" fill="#fff"/>
<line x1="124.3" y1="429.5" x2="124.3" y2="672.2" stroke="#ebebeb" stroke-width="0.9"/>
<line x1="130.67" y1="429.5" x2="130.67" y2="672.2" stroke="#ebebeb" stroke-width="0.45"/>
<line x1="137.04" y1="429.5" x2="137.04" y2="672.2" stroke="#ebebeb" stroke-width="0.9"/>
<line x1="143.41" y1="429.5" x2="143.41" y2="672.2" stroke="#ebebeb" stroke-width="0.45"/>
<line x1="149.78" y1="429.5" x2="149.78" y2="672.2" stroke="#ebebeb" stroke-width="0.9"/>
<line x1="156.15" y1="429.5" x2="156.15" y2="672.2" stroke="#ebebeb" stroke-width="0.45"/>
<line x1="162.52" y1="429.5" x2="162.52" y2="672.2" stroke="#ebebeb" stroke-width="0.9"/>
<line x1="168.89" y1="429.5" x2="168.89" y2="672.2" stroke="#ebebeb" stroke-width="0.45"/>
<line x1="175.26" y1="429.5" x2="175.26" y2="672.2" stroke="#ebebeb" stroke-width="0.9"/>
<line x1="181.63" y1="429.5" x2="181.63" y2="672.2" stroke="#ebebeb" stroke-width="0.45"/>
<line x1="188" y1="429.5" x2="188" y2="672.2" stroke="#ebebeb" stroke-width="0.9"/>
<line x1="118.3" y1="433.3" x2="191.7" y2="433.3" stroke="#ebebeb" stroke-width="0.6"/>
<line x1="118.3" y1="439.34" x2="191.7" y2="439.34" stroke="#ebebeb" stroke-width="0.6"/>
<line x1="118.3" y1="445.37" x2="191.7" y2="445.37" stroke="#ebebeb" stroke-width="0.6"/>
<line x1="118.3" y1="451.41" x2="191.7" y2="451.41" stroke="#ebebeb" stroke-width="0.6"/>
<line x1="118.3" y1="457.44" x2="191.7" y2="457.44" stroke="#ebebeb" stroke-width="0.6"/>
<line x1="118.3" y1="463.48" x2="191.7" y2="463.48" stroke="#ebebeb" stroke-width="0.6"/>
<line x1="118.3" y1="469.52" x2="191.7" y2="469.52" stroke="#ebebeb" stroke-width="0.6"/>
<line x1="118.3" y1="475.55" x2="191.7" y2="475.55" stroke="#ebebeb" stroke-width="0.6"/>
<line x1="118.3" y1="481.59" x2="191.7" y2="481.59" stroke="#ebebeb" stroke-width="0.6"/>
<line x1="118.3" y1="487.62" x2="191.7" y2="487.62" stroke="#ebebeb" stroke-width="0.6"/>
<line x1="118.3" y1="493.66" x2="191.7" y2="493.66" stroke="#ebebeb" stroke-width="0.6"/>
<line x1="118.3" y1="499.7" x2="191.7" y2="499.7" stroke="#ebebeb" stroke-width="0.6"/>
<line x1="118.3" y1="505.73" x2="191.7" y2="505.73" stroke="#ebebeb" stroke-width="0.6"/>
<line x1="118.3" y1="511.77" x2="191.7" y2="511.77" stroke="#ebebeb" stroke-width="0.6"/>
<line x1="118.3" y1="517.8" x2="191.7" y2="517.8" stroke="#ebebeb" stroke-width="0.6"/>
<line x1="118.3" y1="523.84" x2="191.7" y2="523.84" stroke="#ebebeb" stroke-width="0.6"/>
<line x1="118.3" y1="529.88" x2="191.7" y2="529.88" stroke="#ebebeb" stroke-width="0.6"/>
<line x1="118.3" y1="535.91" x2="191.7" y2="535.91" stroke="#ebebeb" stroke-width="0.6"/>
<line x1="118.3" y1="541.95" x2="191.7" y2="541.95" stroke="#ebebeb" stroke-width="0.6"/>
<line x1="118.3" y1="547.98" x2="191.7" y2="547.98" stroke="#ebebeb" stroke-width="0.6"/>
<line x1="118.3" y1="554.02" x2="191.7" y2="554.02" stroke="#ebebeb" stroke-width="0.6"/>
<line x1="118.3" y1="560.06" x2="191.7" y2="560.06" stroke="#ebebeb" stroke-width="0.6"/>
<line x1="118.3" y1="566.09" x2="191.7" y2="566.09" stroke="#ebebeb" stroke-width="0.6"/>
<line x1="118.3" y1="572.13" x2="191.7" y2="572.13" stroke="#ebebeb" stroke-width="0.6"/>
<line x1="118.3" y1="578.16" x2="191.7" y2="578.16" stroke="#ebebeb" stroke-width="0.6"/>
<line x1="118.3" y1="584.2" x2="191.7" y2="584.2" stroke="#ebebeb" stroke-width="0.6"/>
<line x1="118.3" y1="590.24" x2="191.7" y2="590.24" stroke="#ebebeb" stroke-width="0.6"/>
<line x1="118.3" y1="596.27" x2="191.7" y2="596.27" stroke="#ebebeb" stroke-width="0.6"/>
<line x1="118.3" y1="602.31" x2="191.7" y2="602.31" stroke="#ebebeb" stroke-width="0.6"/>
<line x1="118.3" y1="608.34" x2="191.7" y2="608.34" stroke="#ebebeb" stroke-width="0.6"/>
<line x1="118.3" y1="614.38" x2="191.7" y2="614.38" stroke="#ebebeb" stroke-width="0.6"/>
<line x1="118.3" y1="620.42" x2="191.7" y2="620.42" stroke="#ebebeb" stroke-width="0.6"/>
<line x1="118.3" y1="626.45" x2="191.7" y2="626.45" stroke="#ebebeb" stroke-width="0.6"/>
<line x1="118.3" y1="632.49" x2="191.7" y2="632.49" stroke="#ebebeb" stroke-width="0.6"/>
<line x1="118.3" y1="638.52" x2="191.7" y2="638.52" stroke="#ebebeb" stroke-width="0.6"/>
<line x1="118.3" y1="644.56" x2="191.7" y2="644.56" stroke="#ebebeb" stroke-width="0.6"/>
<line x1="118.3" y1="650.6" x2="191.7" y2="650.6" stroke="#ebebeb" stroke-width="0.6"/>
<line x1="118.3" y1="656.63" x2="191.7" y2="656.63" stroke="#ebebeb" stroke-width="0.6"/>
<line x1="118.3" y1="662.67" x2="191.7" y2="662.67" stroke="#ebebeb" stroke-width="0.6"/>
<line x1="118.3" y1="668.7" x2="191.7" y2="668.7" stroke="#ebebeb" stroke-width="0.6"/>
<rect x="118.3" y="429.5" width="73.4" height="242.7" fill="none" stroke="#b5b5b5" stroke-width="0.6"/>
<rect x="118.3" y="423.2" width="73.4" height="6.3" fill="#d9d9d9" stroke="#b5b5b5" stroke-width="0.6"/>
<line x1="124.3" y1="672.2" x2="124.3" y2="673.5" stroke="#555" stroke-width="0.4"/>
<text x="124.3" y="677.4" text-anchor="middle" fill="#333" stroke="#333" stroke-width="0.06" font-size="4.6">0.5</text>
<line x1="137.04" y1="672.2" x2="137.04" y2="673.5" stroke="#555" stroke-width="0.4"/>
<text x="137.04" y="677.4" text-anchor="middle" fill="#333" stroke="#333" stroke-width="0.06" font-size="4.6">0.6</text>
<line x1="149.78" y1="672.2" x2="149.78" y2="673.5" stroke="#555" stroke-width="0.4"/>
<text x="149.78" y="677.4" text-anchor="middle" fill="#333" stroke="#333" stroke-width="0.06" font-size="4.6">0.7</text>
<line x1="162.52" y1="672.2" x2="162.52" y2="673.5" stroke="#555" stroke-width="0.4"/>
<text x="162.52" y="677.4" text-anchor="middle" fill="#333" stroke="#333" stroke-width="0.06" font-size="4.6">0.8</text>
<line x1="175.26" y1="672.2" x2="175.26" y2="673.5" stroke="#555" stroke-width="0.4"/>
<text x="175.26" y="677.4" text-anchor="middle" fill="#333" stroke="#333" stroke-width="0.06" font-size="4.6">0.9</text>
<line x1="188" y1="672.2" x2="188" y2="673.5" stroke="#555" stroke-width="0.4"/>
<text x="188" y="677.4" text-anchor="middle" fill="#333" stroke="#333" stroke-width="0.06" font-size="4.6">1.0</text>
<rect x="193.5" y="429.5" width="73.1" height="242.7" fill="#fff"/>
<line x1="199.4" y1="429.5" x2="199.4" y2="672.2" stroke="#ebebeb" stroke-width="0.9"/>
<line x1="205.8" y1="429.5" x2="205.8" y2="672.2" stroke="#ebebeb" stroke-width="0.45"/>
<line x1="212.2" y1="429.5" x2="212.2" y2="672.2" stroke="#ebebeb" stroke-width="0.9"/>
<line x1="218.6" y1="429.5" x2="218.6" y2="672.2" stroke="#ebebeb" stroke-width="0.45"/>
<line x1="225" y1="429.5" x2="225" y2="672.2" stroke="#ebebeb" stroke-width="0.9"/>
<line x1="231.4" y1="429.5" x2="231.4" y2="672.2" stroke="#ebebeb" stroke-width="0.45"/>
<line x1="237.8" y1="429.5" x2="237.8" y2="672.2" stroke="#ebebeb" stroke-width="0.9"/>
<line x1="244.2" y1="429.5" x2="244.2" y2="672.2" stroke="#ebebeb" stroke-width="0.45"/>
<line x1="250.6" y1="429.5" x2="250.6" y2="672.2" stroke="#ebebeb" stroke-width="0.9"/>
<line x1="257" y1="429.5" x2="257" y2="672.2" stroke="#ebebeb" stroke-width="0.45"/>
<line x1="263.4" y1="429.5" x2="263.4" y2="672.2" stroke="#ebebeb" stroke-width="0.9"/>
<line x1="193.5" y1="433.3" x2="266.6" y2="433.3" stroke="#ebebeb" stroke-width="0.6"/>
<line x1="193.5" y1="439.34" x2="266.6" y2="439.34" stroke="#ebebeb" stroke-width="0.6"/>
<line x1="193.5" y1="445.37" x2="266.6" y2="445.37" stroke="#ebebeb" stroke-width="0.6"/>
<line x1="193.5" y1="451.41" x2="266.6" y2="451.41" stroke="#ebebeb" stroke-width="0.6"/>
<line x1="193.5" y1="457.44" x2="266.6" y2="457.44" stroke="#ebebeb" stroke-width="0.6"/>
<line x1="193.5" y1="463.48" x2="266.6" y2="463.48" stroke="#ebebeb" stroke-width="0.6"/>
<line x1="193.5" y1="469.52" x2="266.6" y2="469.52" stroke="#ebebeb" stroke-width="0.6"/>
<line x1="193.5" y1="475.55" x2="266.6" y2="475.55" stroke="#ebebeb" stroke-width="0.6"/>
<line x1="193.5" y1="481.59" x2="266.6" y2="481.59" stroke="#ebebeb" stroke-width="0.6"/>
<line x1="193.5" y1="487.62" x2="266.6" y2="487.62" stroke="#ebebeb" stroke-width="0.6"/>
<line x1="193.5" y1="493.66" x2="266.6" y2="493.66" stroke="#ebebeb" stroke-width="0.6"/>
<line x1="193.5" y1="499.7" x2="266.6" y2="499.7" stroke="#ebebeb" stroke-width="0.6"/>
<line x1="193.5" y1="505.73" x2="266.6" y2="505.73" stroke="#ebebeb" stroke-width="0.6"/>
<line x1="193.5" y1="511.77" x2="266.6" y2="511.77" stroke="#ebebeb" stroke-width="0.6"/>
<line x1="193.5" y1="517.8" x2="266.6" y2="517.8" stroke="#ebebeb" stroke-width="0.6"/>
<line x1="193.5" y1="523.84" x2="266.6" y2="523.84" stroke="#ebebeb" stroke-width="0.6"/>
<line x1="193.5" y1="529.88" x2="266.6" y2="529.88" stroke="#ebebeb" stroke-width="0.6"/>
<line x1="193.5" y1="535.91" x2="266.6" y2="535.91" stroke="#ebebeb" stroke-width="0.6"/>
<line x1="193.5" y1="541.95" x2="266.6" y2="541.95" stroke="#ebebeb" stroke-width="0.6"/>
<line x1="193.5" y1="547.98" x2="266.6" y2="547.98" stroke="#ebebeb" stroke-width="0.6"/>
<line x1="193.5" y1="554.02" x2="266.6" y2="554.02" stroke="#ebebeb" stroke-width="0.6"/>
<line x1="193.5" y1="560.06" x2="266.6" y2="560.06" stroke="#ebebeb" stroke-width="0.6"/>
<line x1="193.5" y1="566.09" x2="266.6" y2="566.09" stroke="#ebebeb" stroke-width="0.6"/>
<line x1="193.5" y1="572.13" x2="266.6" y2="572.13" stroke="#ebebeb" stroke-width="0.6"/>
<line x1="193.5" y1="578.16" x2="266.6" y2="578.16" stroke="#ebebeb" stroke-width="0.6"/>
<line x1="193.5" y1="584.2" x2="266.6" y2="584.2" stroke="#ebebeb" stroke-width="0.6"/>
<line x1="193.5" y1="590.24" x2="266.6" y2="590.24" stroke="#ebebeb" stroke-width="0.6"/>
<line x1="193.5" y1="596.27" x2="266.6" y2="596.27" stroke="#ebebeb" stroke-width="0.6"/>
<line x1="193.5" y1="602.31" x2="266.6" y2="602.31" stroke="#ebebeb" stroke-width="0.6"/>
<line x1="193.5" y1="608.34" x2="266.6" y2="608.34" stroke="#ebebeb" stroke-width="0.6"/>
<line x1="193.5" y1="614.38" x2="266.6" y2="614.38" stroke="#ebebeb" stroke-width="0.6"/>
<line x1="193.5" y1="620.42" x2="266.6" y2="620.42" stroke="#ebebeb" stroke-width="0.6"/>
<line x1="193.5" y1="626.45" x2="266.6" y2="626.45" stroke="#ebebeb" stroke-width="0.6"/>
<line x1="193.5" y1="632.49" x2="266.6" y2="632.49" stroke="#ebebeb" stroke-width="0.6"/>
<line x1="193.5" y1="638.52" x2="266.6" y2="638.52" stroke="#ebebeb" stroke-width="0.6"/>
<line x1="193.5" y1="644.56" x2="266.6" y2="644.56" stroke="#ebebeb" stroke-width="0.6"/>
<line x1="193.5" y1="650.6" x2="266.6" y2="650.6" stroke="#ebebeb" stroke-width="0.6"/>
<line x1="193.5" y1="656.63" x2="266.6" y2="656.63" stroke="#ebebeb" stroke-width="0.6"/>
<line x1="193.5" y1="662.67" x2="266.6" y2="662.67" stroke="#ebebeb" stroke-width="0.6"/>
<line x1="193.5" y1="668.7" x2="266.6" y2="668.7" stroke="#ebebeb" stroke-width="0.6"/>
<rect x="193.5" y="429.5" width="73.1" height="242.7" fill="none" stroke="#b5b5b5" stroke-width="0.6"/>
<rect x="193.5" y="423.2" width="73.1" height="6.3" fill="#d9d9d9" stroke="#b5b5b5" stroke-width="0.6"/>
<line x1="199.4" y1="672.2" x2="199.4" y2="673.5" stroke="#555" stroke-width="0.4"/>
<text x="199.4" y="677.4" text-anchor="middle" fill="#333" stroke="#333" stroke-width="0.06" font-size="4.6">0.5</text>
<line x1="212.2" y1="672.2" x2="212.2" y2="673.5" stroke="#555" stroke-width="0.4"/>
<text x="212.2" y="677.4" text-anchor="middle" fill="#333" stroke="#333" stroke-width="0.06" font-size="4.6">0.6</text>
<line x1="225" y1="672.2" x2="225" y2="673.5" stroke="#555" stroke-width="0.4"/>
<text x="225" y="677.4" text-anchor="middle" fill="#333" stroke="#333" stroke-width="0.06" font-size="4.6">0.7</text>
<line x1="237.8" y1="672.2" x2="237.8" y2="673.5" stroke="#555" stroke-width="0.4"/>
<text x="237.8" y="677.4" text-anchor="middle" fill="#333" stroke="#333" stroke-width="0.06" font-size="4.6">0.8</text>
<line x1="250.6" y1="672.2" x2="250.6" y2="673.5" stroke="#555" stroke-width="0.4"/>
<text x="250.6" y="677.4" text-anchor="middle" fill="#333" stroke="#333" stroke-width="0.06" font-size="4.6">0.9</text>
<line x1="263.4" y1="672.2" x2="263.4" y2="673.5" stroke="#555" stroke-width="0.4"/>
<text x="263.4" y="677.4" text-anchor="middle" fill="#333" stroke="#333" stroke-width="0.06" font-size="4.6">1.0</text>
<text x="155" y="427.9" text-anchor="middle" fill="#333" font-size="3.9" stroke="none">activated</text>
<text x="230.05" y="427.9" text-anchor="middle" fill="#333" font-size="3.9" stroke="none">suppressed</text>
<line x1="116.4" y1="433.3" x2="118.3" y2="433.3" stroke="#333" stroke-width="0.5"/>
<text x="116.3" y="435.3" text-anchor="end" fill="#0d0d0d" font-size="4.57" stroke="none">leukocyte migration</text>
<line x1="116.4" y1="439.34" x2="118.3" y2="439.34" stroke="#333" stroke-width="0.5"/>
<text x="116.3" y="441.34" text-anchor="end" fill="#0d0d0d" font-size="4.57" stroke="none">regulation of anatomical structure morphogenesis</text>
<line x1="116.4" y1="445.37" x2="118.3" y2="445.37" stroke="#333" stroke-width="0.5"/>
<text x="116.3" y="447.37" text-anchor="end" fill="#0d0d0d" font-size="4.57" stroke="none">angiogenesis</text>
<line x1="116.4" y1="451.41" x2="118.3" y2="451.41" stroke="#333" stroke-width="0.5"/>
<text x="116.3" y="453.41" text-anchor="end" fill="#0d0d0d" font-size="4.57" stroke="none">chromosome organization</text>
<line x1="116.4" y1="457.44" x2="118.3" y2="457.44" stroke="#333" stroke-width="0.5"/>
<text x="116.3" y="459.44" text-anchor="end" fill="#0d0d0d" font-size="4.57" stroke="none">cell cycle process</text>
<line x1="116.4" y1="463.48" x2="118.3" y2="463.48" stroke="#333" stroke-width="0.5"/>
<text x="116.3" y="465.48" text-anchor="end" fill="#0d0d0d" font-size="4.57" stroke="none">cell cycle</text>
<line x1="116.4" y1="469.52" x2="118.3" y2="469.52" stroke="#333" stroke-width="0.5"/>
<text x="116.3" y="471.52" text-anchor="end" fill="#0d0d0d" font-size="4.57" stroke="none">mitotic sister chromatid segregation</text>
<line x1="116.4" y1="475.55" x2="118.3" y2="475.55" stroke="#333" stroke-width="0.5"/>
<text x="116.3" y="477.55" text-anchor="end" fill="#0d0d0d" font-size="4.57" stroke="none">microtubule cytoskeleton organization involved in mitosis</text>
<line x1="116.4" y1="481.59" x2="118.3" y2="481.59" stroke="#333" stroke-width="0.5"/>
<text x="116.3" y="483.59" text-anchor="end" fill="#0d0d0d" font-size="4.57" stroke="none">lipid metabolic process</text>
<line x1="116.4" y1="487.62" x2="118.3" y2="487.62" stroke="#333" stroke-width="0.5"/>
<text x="116.3" y="489.62" text-anchor="end" fill="#0d0d0d" font-size="4.57" stroke="none">biological adhesion</text>
<line x1="116.4" y1="493.66" x2="118.3" y2="493.66" stroke="#333" stroke-width="0.5"/>
<text x="116.3" y="495.66" text-anchor="end" fill="#0d0d0d" font-size="4.57" stroke="none">cell adhesion</text>
<line x1="116.4" y1="499.7" x2="118.3" y2="499.7" stroke="#333" stroke-width="0.5"/>
<text x="116.3" y="501.7" text-anchor="end" fill="#0d0d0d" font-size="4.57" stroke="none">sister chromatid segregation</text>
<line x1="116.4" y1="505.73" x2="118.3" y2="505.73" stroke="#333" stroke-width="0.5"/>
<text x="116.3" y="507.73" text-anchor="end" fill="#0d0d0d" font-size="4.57" stroke="none">mitotic nuclear division</text>
<line x1="116.4" y1="511.77" x2="118.3" y2="511.77" stroke="#333" stroke-width="0.5"/>
<text x="116.3" y="513.77" text-anchor="end" fill="#0d0d0d" font-size="4.57" stroke="none">blood vessel development</text>
<line x1="116.4" y1="517.8" x2="118.3" y2="517.8" stroke="#333" stroke-width="0.5"/>
<text x="116.3" y="519.8" text-anchor="end" fill="#0d0d0d" font-size="4.57" stroke="none">vasculature development</text>
<line x1="116.4" y1="523.84" x2="118.3" y2="523.84" stroke="#333" stroke-width="0.5"/>
<text x="116.3" y="525.84" text-anchor="end" fill="#0d0d0d" font-size="4.57" stroke="none">ion transport</text>
<line x1="116.4" y1="529.88" x2="118.3" y2="529.88" stroke="#333" stroke-width="0.5"/>
<text x="116.3" y="531.88" text-anchor="end" fill="#0d0d0d" font-size="4.57" stroke="none">organelle fission</text>
<line x1="116.4" y1="535.91" x2="118.3" y2="535.91" stroke="#333" stroke-width="0.5"/>
<text x="116.3" y="537.91" text-anchor="end" fill="#0d0d0d" font-size="4.57" stroke="none">spindle organization</text>
<line x1="116.4" y1="541.95" x2="118.3" y2="541.95" stroke="#333" stroke-width="0.5"/>
<text x="116.3" y="543.95" text-anchor="end" fill="#0d0d0d" font-size="4.57" stroke="none">nuclear chromosome segregation</text>
<line x1="116.4" y1="547.98" x2="118.3" y2="547.98" stroke="#333" stroke-width="0.5"/>
<text x="116.3" y="549.98" text-anchor="end" fill="#0d0d0d" font-size="4.57" stroke="none">cell division</text>
<line x1="116.4" y1="554.02" x2="118.3" y2="554.02" stroke="#333" stroke-width="0.5"/>
<text x="116.3" y="556.02" text-anchor="end" fill="#0d0d0d" font-size="4.57" stroke="none">microtubule cytoskeleton organization</text>
<line x1="116.4" y1="560.06" x2="118.3" y2="560.06" stroke="#333" stroke-width="0.5"/>
<text x="116.3" y="562.06" text-anchor="end" fill="#0d0d0d" font-size="4.57" stroke="none">microtubule-based process</text>
<line x1="116.4" y1="566.09" x2="118.3" y2="566.09" stroke="#333" stroke-width="0.5"/>
<text x="116.3" y="568.09" text-anchor="end" fill="#0d0d0d" font-size="4.57" stroke="none">cell-cell signaling</text>
<line x1="116.4" y1="572.13" x2="118.3" y2="572.13" stroke="#333" stroke-width="0.5"/>
<text x="116.3" y="574.13" text-anchor="end" fill="#0d0d0d" font-size="4.57" stroke="none">nuclear division</text>
<line x1="116.4" y1="578.16" x2="118.3" y2="578.16" stroke="#333" stroke-width="0.5"/>
<text x="116.3" y="580.16" text-anchor="end" fill="#0d0d0d" font-size="4.57" stroke="none">regulation of cell cycle</text>
<line x1="116.4" y1="584.2" x2="118.3" y2="584.2" stroke="#333" stroke-width="0.5"/>
<text x="116.3" y="586.2" text-anchor="end" fill="#0d0d0d" font-size="4.57" stroke="none">regulation of cell cycle process</text>
<line x1="116.4" y1="590.24" x2="118.3" y2="590.24" stroke="#333" stroke-width="0.5"/>
<text x="116.3" y="592.24" text-anchor="end" fill="#0d0d0d" font-size="4.57" stroke="none">chromosome segregation</text>
<line x1="116.4" y1="596.27" x2="118.3" y2="596.27" stroke="#333" stroke-width="0.5"/>
<text x="116.3" y="598.27" text-anchor="end" fill="#0d0d0d" font-size="4.57" stroke="none">mitotic cell cycle</text>
<line x1="116.4" y1="602.31" x2="118.3" y2="602.31" stroke="#333" stroke-width="0.5"/>
<text x="116.3" y="604.31" text-anchor="end" fill="#0d0d0d" font-size="4.57" stroke="none">mitotic cell cycle process</text>
<line x1="116.4" y1="608.34" x2="118.3" y2="608.34" stroke="#333" stroke-width="0.5"/>
<text x="116.3" y="610.34" text-anchor="end" fill="#0d0d0d" font-size="4.57" stroke="none">response to external stimulus</text>
<line x1="116.4" y1="614.38" x2="118.3" y2="614.38" stroke="#333" stroke-width="0.5"/>
<text x="116.3" y="616.38" text-anchor="end" fill="#0d0d0d" font-size="4.57" stroke="none">response to bacterium</text>
<line x1="116.4" y1="620.42" x2="118.3" y2="620.42" stroke="#333" stroke-width="0.5"/>
<text x="116.3" y="622.42" text-anchor="end" fill="#0d0d0d" font-size="4.57" stroke="none">organelle organization</text>
<line x1="116.4" y1="626.45" x2="118.3" y2="626.45" stroke="#333" stroke-width="0.5"/>
<text x="116.3" y="628.45" text-anchor="end" fill="#0d0d0d" font-size="4.57" stroke="none">defense response</text>
<line x1="116.4" y1="632.49" x2="118.3" y2="632.49" stroke="#333" stroke-width="0.5"/>
<text x="116.3" y="634.49" text-anchor="end" fill="#0d0d0d" font-size="4.57" stroke="none">response to biotic stimulus</text>
<line x1="116.4" y1="638.52" x2="118.3" y2="638.52" stroke="#333" stroke-width="0.5"/>
<text x="116.3" y="640.52" text-anchor="end" fill="#0d0d0d" font-size="4.57" stroke="none">response to external biotic stimulus</text>
<line x1="116.4" y1="644.56" x2="118.3" y2="644.56" stroke="#333" stroke-width="0.5"/>
<text x="116.3" y="646.56" text-anchor="end" fill="#0d0d0d" font-size="4.57" stroke="none">response to other organism</text>
<line x1="116.4" y1="650.6" x2="118.3" y2="650.6" stroke="#333" stroke-width="0.5"/>
<text x="116.3" y="652.6" text-anchor="end" fill="#0d0d0d" font-size="4.57" stroke="none">cell communication</text>
<line x1="116.4" y1="656.63" x2="118.3" y2="656.63" stroke="#333" stroke-width="0.5"/>
<text x="116.3" y="658.63" text-anchor="end" fill="#0d0d0d" font-size="4.57" stroke="none">signaling</text>
<line x1="116.4" y1="662.67" x2="118.3" y2="662.67" stroke="#333" stroke-width="0.5"/>
<text x="116.3" y="664.67" text-anchor="end" fill="#0d0d0d" font-size="4.57" stroke="none">signal transduction</text>
<line x1="116.4" y1="668.7" x2="118.3" y2="668.7" stroke="#333" stroke-width="0.5"/>
<text x="116.3" y="670.7" text-anchor="end" fill="#0d0d0d" font-size="4.57" stroke="none">cell surface receptor signaling pathway</text>
<text x="192.6" y="682.4" text-anchor="middle" stroke="#000" stroke-width="0.06" font-size="5">GeneRatio</text>
<circle cx="188.2" cy="433.3" r="1.55" fill="#e8193e"/>
<circle cx="188.2" cy="439.34" r="2.05" fill="#e5193f"/>
<circle cx="188.2" cy="445.37" r="1.95" fill="#2222ff"/>
<circle cx="177.6" cy="481.59" r="1.95" fill="#e61a40"/>
<circle cx="177.6" cy="487.62" r="1.95" fill="#e61a40"/>
<circle cx="176.3" cy="493.66" r="1.95" fill="#e61a40"/>
<circle cx="174" cy="511.77" r="1.95" fill="#1f2bff"/>
<circle cx="174" cy="517.8" r="1.95" fill="#1f2bff"/>
<circle cx="174" cy="523.84" r="1.95" fill="#1f2bff"/>
<circle cx="158.8" cy="566.09" r="1.95" fill="#e41a45"/>
<circle cx="149.2" cy="608.34" r="2.1" fill="#e01e55"/>
<circle cx="145.5" cy="614.38" r="1.6" fill="#1a22ff"/>
<circle cx="135.3" cy="626.45" r="1.9" fill="#e21c50"/>
<circle cx="129.2" cy="632.49" r="1.75" fill="#e01e55"/>
<circle cx="129.2" cy="638.52" r="1.75" fill="#e01e55"/>
<circle cx="129.2" cy="644.56" r="1.75" fill="#e01e55"/>
<circle cx="123.2" cy="650.6" r="2.55" fill="#dc225c"/>
<circle cx="123.2" cy="656.63" r="2.55" fill="#dc225c"/>
<circle cx="123.2" cy="662.67" r="2.55" fill="#dc225c"/>
<circle cx="121.6" cy="668.7" r="2.05" fill="#dc225c"/>
<circle cx="261.4" cy="451.41" r="2.95" fill="#ff2a1f"/>
<circle cx="256.7" cy="457.44" r="3.05" fill="#ff2a1f"/>
<circle cx="255.3" cy="463.48" r="3.15" fill="#ff2a1f"/>
<circle cx="253.4" cy="469.52" r="2.35" fill="#ff2a1f"/>
<circle cx="253.4" cy="475.55" r="2.25" fill="#ff2a1f"/>
<circle cx="250.6" cy="499.7" r="2.35" fill="#ff2a1f"/>
<circle cx="250.6" cy="505.73" r="2.4" fill="#ff2a1f"/>
<circle cx="246" cy="529.88" r="2.55" fill="#ff2a1f"/>
<circle cx="245" cy="535.91" r="1.95" fill="#ff2a1f"/>
<circle cx="244.1" cy="541.95" r="2.25" fill="#ff2a1f"/>
<circle cx="241.5" cy="547.98" r="2.6" fill="#ff2a1f"/>
<circle cx="235.1" cy="554.02" r="2.15" fill="#ff2a1f"/>
<circle cx="234.2" cy="560.06" r="2.15" fill="#ff2a1f"/>
<circle cx="232.4" cy="572.13" r="2.4" fill="#ff2a1f"/>
<circle cx="232.2" cy="578.16" r="2.6" fill="#ff2a1f"/>
<circle cx="231.8" cy="584.2" r="2.3" fill="#ff2a1f"/>
<circle cx="230.7" cy="590.24" r="2.3" fill="#ff2a1f"/>
<circle cx="228.5" cy="596.27" r="2.7" fill="#ff2a1f"/>
<circle cx="228.2" cy="602.31" r="2.7" fill="#ff2a1f"/>
<circle cx="218.1" cy="620.42" r="3" fill="#ff2a1f"/>
<text x="273" y="513.2" stroke="#000" stroke-width="0.06" font-size="4.4">p.adjust</text>
<defs><linearGradient id="gd" x1="0" y1="0" x2="0" y2="1"><stop offset="0" stop-color="#ff1f1f"/><stop offset="0.5" stop-color="#c01a80"/><stop offset="1" stop-color="#2b3bff"/></linearGradient><linearGradient id="ge" x1="0" y1="0" x2="0" y2="1"><stop offset="0" stop-color="#ff2020"/><stop offset="0.5" stop-color="#c01a88"/><stop offset="1" stop-color="#2a40ff"/></linearGradient></defs>
<rect x="273.1" y="515.5" width="5.9" height="32.5" fill="url(#gd)"/>
<line x1="273.1" y1="520" x2="274.2" y2="520" stroke="#fff" stroke-width="0.4"/>
<line x1="277.9" y1="520" x2="279" y2="520" stroke="#fff" stroke-width="0.4"/>
<text x="281.3" y="521.3" fill="#1a1a1a" stroke="#1a1a1a" stroke-width="0.06" font-size="3.7">0.00020</text>
<line x1="273.1" y1="525.93" x2="274.2" y2="525.93" stroke="#fff" stroke-width="0.4"/>
<line x1="277.9" y1="525.93" x2="279" y2="525.93" stroke="#fff" stroke-width="0.4"/>
<text x="281.3" y="527.23" fill="#1a1a1a" stroke="#1a1a1a" stroke-width="0.06" font-size="3.7">0.00025</text>
<line x1="273.1" y1="531.86" x2="274.2" y2="531.86" stroke="#fff" stroke-width="0.4"/>
<line x1="277.9" y1="531.86" x2="279" y2="531.86" stroke="#fff" stroke-width="0.4"/>
<text x="281.3" y="533.16" fill="#1a1a1a" stroke="#1a1a1a" stroke-width="0.06" font-size="3.7">0.00030</text>
<line x1="273.1" y1="537.79" x2="274.2" y2="537.79" stroke="#fff" stroke-width="0.4"/>
<line x1="277.9" y1="537.79" x2="279" y2="537.79" stroke="#fff" stroke-width="0.4"/>
<text x="281.3" y="539.09" fill="#1a1a1a" stroke="#1a1a1a" stroke-width="0.06" font-size="3.7">0.00035</text>
<line x1="273.1" y1="543.72" x2="274.2" y2="543.72" stroke="#fff" stroke-width="0.4"/>
<line x1="277.9" y1="543.72" x2="279" y2="543.72" stroke="#fff" stroke-width="0.4"/>
<text x="281.3" y="545.02" fill="#1a1a1a" stroke="#1a1a1a" stroke-width="0.06" font-size="3.7">0.00040</text>
<text x="273" y="560.5" stroke="#000" stroke-width="0.06" font-size="4.4">Count</text>
<circle cx="277" cy="566" r="2.2" fill="#000"/>
<text x="283.3" y="567.3" fill="#1a1a1a" stroke="#1a1a1a" stroke-width="0.06" font-size="3.7">25</text>
<circle cx="277" cy="572.6" r="2.65" fill="#000"/>
<text x="283.3" y="573.9" fill="#1a1a1a" stroke="#1a1a1a" stroke-width="0.06" font-size="3.7">50</text>
<circle cx="277" cy="580.2" r="3.1" fill="#000"/>
<text x="283.3" y="581.5" fill="#1a1a1a" stroke="#1a1a1a" stroke-width="0.06" font-size="3.7">75</text>
<circle cx="277" cy="588.5" r="3.5" fill="#000"/>
<text x="283.3" y="589.8" fill="#1a1a1a" stroke="#1a1a1a" stroke-width="0.06" font-size="3.7">100</text>
<text transform="translate(348.4 421.6) scale(0.9 1)" font-size="15" font-weight="bold">e</text>
<rect x="405.3" y="447.3" width="126.2" height="206.8" fill="#fff"/>
<line x1="410.9" y1="447.3" x2="410.9" y2="654.1" stroke="#ebebeb" stroke-width="0.9"/>
<line x1="425.29" y1="447.3" x2="425.29" y2="654.1" stroke="#ebebeb" stroke-width="0.45"/>
<line x1="439.68" y1="447.3" x2="439.68" y2="654.1" stroke="#ebebeb" stroke-width="0.9"/>
<line x1="454.06" y1="447.3" x2="454.06" y2="654.1" stroke="#ebebeb" stroke-width="0.45"/>
<line x1="468.45" y1="447.3" x2="468.45" y2="654.1" stroke="#ebebeb" stroke-width="0.9"/>
<line x1="482.84" y1="447.3" x2="482.84" y2="654.1" stroke="#ebebeb" stroke-width="0.45"/>
<line x1="497.23" y1="447.3" x2="497.23" y2="654.1" stroke="#ebebeb" stroke-width="0.9"/>
<line x1="511.61" y1="447.3" x2="511.61" y2="654.1" stroke="#ebebeb" stroke-width="0.45"/>
<line x1="526" y1="447.3" x2="526" y2="654.1" stroke="#ebebeb" stroke-width="0.9"/>
<line x1="405.3" y1="476.8" x2="531.5" y2="476.8" stroke="#ebebeb" stroke-width="0.9"/>
<line x1="403" y1="476.8" x2="405.3" y2="476.8" stroke="#333" stroke-width="0.5"/>
<text x="402.5" y="478.7" text-anchor="end" fill="#0d0d0d" font-size="4.55" stroke="none">NOD-like receptor signaling pathway</text>
<line x1="405.3" y1="526.1" x2="531.5" y2="526.1" stroke="#ebebeb" stroke-width="0.9"/>
<line x1="403" y1="526.1" x2="405.3" y2="526.1" stroke="#333" stroke-width="0.5"/>
<text x="402.5" y="528" text-anchor="end" fill="#0d0d0d" font-size="4.55" stroke="none">Lipid and atherosclerosis</text>
<line x1="405.3" y1="575.4" x2="531.5" y2="575.4" stroke="#ebebeb" stroke-width="0.9"/>
<line x1="403" y1="575.4" x2="405.3" y2="575.4" stroke="#333" stroke-width="0.5"/>
<text x="402.5" y="577.3" text-anchor="end" fill="#0d0d0d" font-size="4.55" stroke="none">Cytokine-cytokine receptor interaction</text>
<line x1="405.3" y1="624.7" x2="531.5" y2="624.7" stroke="#ebebeb" stroke-width="0.9"/>
<line x1="403" y1="624.7" x2="405.3" y2="624.7" stroke="#333" stroke-width="0.5"/>
<text x="402.5" y="626.6" text-anchor="end" fill="#0d0d0d" font-size="4.55" stroke="none">Chemokine signaling pathway</text>
<rect x="405.3" y="447.3" width="126.2" height="206.8" fill="none" stroke="#b5b5b5" stroke-width="0.6"/>
<rect x="405.3" y="440.6" width="126.2" height="6.7" fill="#d9d9d9" stroke="#b5b5b5" stroke-width="0.6"/>
<text x="468.4" y="445.3" text-anchor="middle" fill="#333" font-size="3.9" stroke="none">activated</text>
<line x1="410.9" y1="654.1" x2="410.9" y2="655.4" stroke="#555" stroke-width="0.4"/>
<text x="410.9" y="660" text-anchor="middle" fill="#333" stroke="#333" stroke-width="0.06" font-size="4.5">0.80</text>
<line x1="439.67" y1="654.1" x2="439.67" y2="655.4" stroke="#555" stroke-width="0.4"/>
<text x="439.67" y="660" text-anchor="middle" fill="#333" stroke="#333" stroke-width="0.06" font-size="4.5">0.85</text>
<line x1="468.45" y1="654.1" x2="468.45" y2="655.4" stroke="#555" stroke-width="0.4"/>
<text x="468.45" y="660" text-anchor="middle" fill="#333" stroke="#333" stroke-width="0.06" font-size="4.5">0.90</text>
<line x1="497.22" y1="654.1" x2="497.22" y2="655.4" stroke="#555" stroke-width="0.4"/>
<text x="497.22" y="660" text-anchor="middle" fill="#333" stroke="#333" stroke-width="0.06" font-size="4.5">0.95</text>
<line x1="526" y1="654.1" x2="526" y2="655.4" stroke="#555" stroke-width="0.4"/>
<text x="526" y="660" text-anchor="middle" fill="#333" stroke="#333" stroke-width="0.06" font-size="4.5">1.00</text>
<text x="468.4" y="665.2" text-anchor="middle" stroke="#000" stroke-width="0.06" font-size="4.8">GeneRatio</text>
<circle cx="525.5" cy="476.8" r="2.85" fill="#1f35ff"/>
<circle cx="443.6" cy="526.1" r="3.25" fill="#ff2a1a"/>
<circle cx="430" cy="575.4" r="2.7" fill="#ff2f22"/>
<circle cx="410.8" cy="624.9" r="1.45" fill="#c016b0"/>
<text x="538" y="509.5" stroke="#000" stroke-width="0.06" font-size="4.4">Count</text>
<circle cx="542.2" cy="515.4" r="1.35" fill="#000"/>
<text x="548.6" y="516.7" fill="#1a1a1a" stroke="#1a1a1a" stroke-width="0.06" font-size="3.7">4.0</text>
<circle cx="542.2" cy="521.9" r="2.25" fill="#000"/>
<text x="548.6" y="523.2" fill="#1a1a1a" stroke="#1a1a1a" stroke-width="0.06" font-size="3.7">4.5</text>
<circle cx="542.2" cy="528.5" r="2.6" fill="#000"/>
<text x="548.6" y="529.8" fill="#1a1a1a" stroke="#1a1a1a" stroke-width="0.06" font-size="3.7">5.0</text>
<circle cx="542.2" cy="536" r="3" fill="#000"/>
<text x="548.6" y="537.3" fill="#1a1a1a" stroke="#1a1a1a" stroke-width="0.06" font-size="3.7">5.5</text>
<circle cx="542.2" cy="544.6" r="3.35" fill="#000"/>
<text x="548.6" y="545.9" fill="#1a1a1a" stroke="#1a1a1a" stroke-width="0.06" font-size="3.7">6.0</text>
<text x="538" y="561" stroke="#000" stroke-width="0.06" font-size="4.4">p.adjust</text>
<rect x="538" y="563" width="6.5" height="32.6" fill="url(#ge)"/>
<text x="546.4" y="572.2" fill="#1a1a1a" stroke="#1a1a1a" stroke-width="0.06" font-size="3.7">0.0025</text>
<text x="546.4" y="579.87" fill="#1a1a1a" stroke="#1a1a1a" stroke-width="0.06" font-size="3.7">0.0050</text>
<text x="546.4" y="587.54" fill="#1a1a1a" stroke="#1a1a1a" stroke-width="0.06" font-size="3.7">0.0075</text>
<text x="546.4" y="595.21" fill="#1a1a1a" stroke="#1a1a1a" stroke-width="0.06" font-size="3.7">0.0100</text>
</svg></body></html>
